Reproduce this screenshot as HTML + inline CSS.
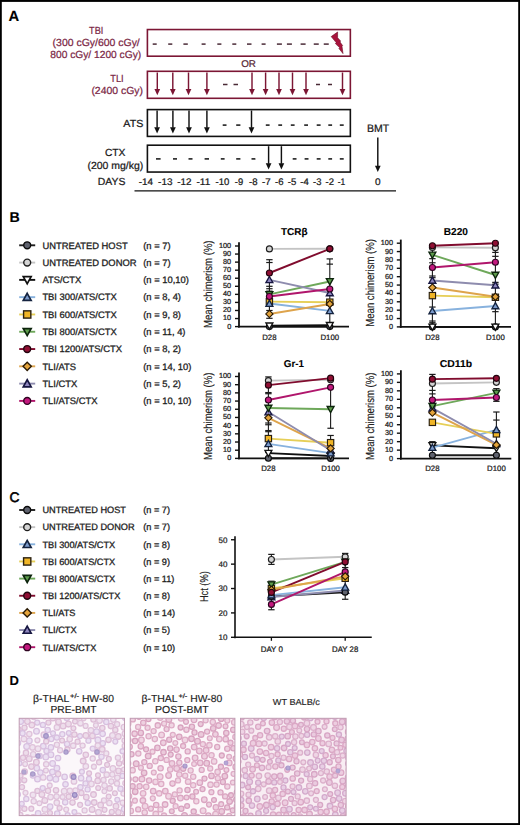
<!DOCTYPE html>
<html><head><meta charset="utf-8"><title>Figure</title>
<style>
html,body{margin:0;padding:0;background:#fff;}
svg{display:block;font-family:"Liberation Sans",sans-serif;}
</style></head>
<body>
<svg width="520" height="825" viewBox="0 0 520 825" text-rendering="geometricPrecision">
<rect x="0" y="0" width="520" height="825" fill="#ffffff"/>
<text x="8.4" y="20.8" font-size="14.8" font-weight="bold" fill="#000" stroke="#000" stroke-width="0.1">A</text>
<text x="96.2" y="33.5" font-size="10.3" textLength="14.2" lengthAdjust="spacingAndGlyphs" text-anchor="middle" fill="#7b2745" stroke="#7b2745" stroke-width="0.24">TBI</text>
<text x="139.8" y="45.8" font-size="10.3" textLength="87.2" lengthAdjust="spacingAndGlyphs" text-anchor="end" fill="#7b2745" stroke="#7b2745" stroke-width="0.24">(300 cGy/600 cGy/</text>
<text x="141.2" y="58.0" font-size="10.3" textLength="90.9" lengthAdjust="spacingAndGlyphs" text-anchor="end" fill="#7b2745" stroke="#7b2745" stroke-width="0.24">800 cGy/ 1200 cGy)</text>
<rect x="147.4" y="29.55" width="202.95" height="26.65" fill="none" stroke="#7c1634" stroke-width="1.6"/>
<line x1="152.7" y1="44.1" x2="156.7" y2="44.1" stroke="#4a2a36" stroke-width="1.5"/>
<line x1="168.2" y1="44.1" x2="172.3" y2="44.1" stroke="#4a2a36" stroke-width="1.5"/>
<line x1="183.4" y1="44.1" x2="187.8" y2="44.1" stroke="#4a2a36" stroke-width="1.5"/>
<line x1="201.6" y1="44.1" x2="205.6" y2="44.1" stroke="#4a2a36" stroke-width="1.5"/>
<line x1="217.3" y1="44.1" x2="221.4" y2="44.1" stroke="#4a2a36" stroke-width="1.5"/>
<line x1="232.3" y1="44.1" x2="236.3" y2="44.1" stroke="#4a2a36" stroke-width="1.5"/>
<line x1="247" y1="44.1" x2="251.5" y2="44.1" stroke="#4a2a36" stroke-width="1.5"/>
<line x1="261.6" y1="44.1" x2="265.6" y2="44.1" stroke="#4a2a36" stroke-width="1.5"/>
<line x1="276.9" y1="44.1" x2="281.9" y2="44.1" stroke="#4a2a36" stroke-width="1.5"/>
<line x1="286.9" y1="44.1" x2="291.9" y2="44.1" stroke="#4a2a36" stroke-width="1.5"/>
<line x1="300.6" y1="44.1" x2="305.6" y2="44.1" stroke="#4a2a36" stroke-width="1.5"/>
<line x1="313.75" y1="44.1" x2="318.75" y2="44.1" stroke="#4a2a36" stroke-width="1.5"/>
<line x1="323.75" y1="44.1" x2="328.75" y2="44.1" stroke="#4a2a36" stroke-width="1.5"/>
<polygon points="337.6,32.0 331.2,36.6 336.2,42.6 335.4,43.6 339.6,47.6 339.0,48.6 343.0,53.6 342.0,46.4 342.6,45.6 340.0,42.0 340.6,41.0 337.6,37.8" fill="#a8133c" stroke="#6a0a22" stroke-width="0.6" stroke-linejoin="round"/>
<text x="248.5" y="66.9" font-size="9.8" textLength="14.7" lengthAdjust="spacingAndGlyphs" text-anchor="middle" fill="#5a2a38" stroke="#5a2a38" stroke-width="0.24">OR</text>
<text x="117.0" y="81.7" font-size="10.3" textLength="13.4" lengthAdjust="spacingAndGlyphs" text-anchor="middle" fill="#7b2745" stroke="#7b2745" stroke-width="0.24">TLI</text>
<text x="143.0" y="93.8" font-size="10.3" textLength="51.6" lengthAdjust="spacingAndGlyphs" text-anchor="end" fill="#7b2745" stroke="#7b2745" stroke-width="0.24">(2400 cGy)</text>
<rect x="147.4" y="71.3" width="202.95" height="27.0" fill="none" stroke="#7c1634" stroke-width="1.6"/>
<line x1="157.3" y1="72.5" x2="157.3" y2="89.5" stroke="#7c1634" stroke-width="1.45"/>
<polygon points="154.45,89.00 160.15,89.00 157.30,95.30" fill="#7c1634"/>
<line x1="172.8" y1="72.5" x2="172.8" y2="89.5" stroke="#7c1634" stroke-width="1.45"/>
<polygon points="169.95,89.00 175.65,89.00 172.80,95.30" fill="#7c1634"/>
<line x1="188.5" y1="72.5" x2="188.5" y2="89.5" stroke="#7c1634" stroke-width="1.45"/>
<polygon points="185.65,89.00 191.35,89.00 188.50,95.30" fill="#7c1634"/>
<line x1="206.9" y1="72.5" x2="206.9" y2="89.5" stroke="#7c1634" stroke-width="1.45"/>
<polygon points="204.05,89.00 209.75,89.00 206.90,95.30" fill="#7c1634"/>
<line x1="252" y1="72.5" x2="252" y2="89.5" stroke="#7c1634" stroke-width="1.45"/>
<polygon points="249.15,89.00 254.85,89.00 252.00,95.30" fill="#7c1634"/>
<line x1="265.6" y1="72.5" x2="265.6" y2="89.5" stroke="#7c1634" stroke-width="1.45"/>
<polygon points="262.75,89.00 268.45,89.00 265.60,95.30" fill="#7c1634"/>
<line x1="279" y1="72.5" x2="279" y2="89.5" stroke="#7c1634" stroke-width="1.45"/>
<polygon points="276.15,89.00 281.85,89.00 279.00,95.30" fill="#7c1634"/>
<line x1="292.5" y1="72.5" x2="292.5" y2="89.5" stroke="#7c1634" stroke-width="1.45"/>
<polygon points="289.65,89.00 295.35,89.00 292.50,95.30" fill="#7c1634"/>
<line x1="306" y1="72.5" x2="306" y2="89.5" stroke="#7c1634" stroke-width="1.45"/>
<polygon points="303.15,89.00 308.85,89.00 306.00,95.30" fill="#7c1634"/>
<line x1="342.5" y1="72.5" x2="342.5" y2="89.5" stroke="#7c1634" stroke-width="1.45"/>
<polygon points="339.65,89.00 345.35,89.00 342.50,95.30" fill="#7c1634"/>
<line x1="223" y1="84.5" x2="227.5" y2="84.5" stroke="#4a2a36" stroke-width="1.5"/>
<line x1="233.5" y1="84.5" x2="238" y2="84.5" stroke="#4a2a36" stroke-width="1.5"/>
<line x1="316" y1="84.5" x2="320" y2="84.5" stroke="#4a2a36" stroke-width="1.5"/>
<line x1="328" y1="84.5" x2="332" y2="84.5" stroke="#4a2a36" stroke-width="1.5"/>
<text x="143.3" y="126.6" font-size="10.3" textLength="20.0" lengthAdjust="spacingAndGlyphs" text-anchor="end" fill="#1a1a1a" stroke="#1a1a1a" stroke-width="0.24">ATS</text>
<rect x="147.4" y="109.6" width="202.95" height="26.8" fill="none" stroke="#111" stroke-width="1.6"/>
<line x1="157.1" y1="110.5" x2="157.1" y2="127.8" stroke="#111" stroke-width="1.45"/>
<polygon points="154.25,127.30 159.95,127.30 157.10,133.60" fill="#111"/>
<line x1="172.9" y1="110.5" x2="172.9" y2="127.8" stroke="#111" stroke-width="1.45"/>
<polygon points="170.05,127.30 175.75,127.30 172.90,133.60" fill="#111"/>
<line x1="189.0" y1="110.5" x2="189.0" y2="127.8" stroke="#111" stroke-width="1.45"/>
<polygon points="186.15,127.30 191.85,127.30 189.00,133.60" fill="#111"/>
<line x1="206.9" y1="110.5" x2="206.9" y2="127.8" stroke="#111" stroke-width="1.45"/>
<polygon points="204.05,127.30 209.75,127.30 206.90,133.60" fill="#111"/>
<line x1="251.5" y1="110.5" x2="251.5" y2="127.8" stroke="#111" stroke-width="1.45"/>
<polygon points="248.65,127.30 254.35,127.30 251.50,133.60" fill="#111"/>
<line x1="222.7" y1="125.1" x2="226.5" y2="125.1" stroke="#111" stroke-width="1.5"/>
<line x1="236.2" y1="125.1" x2="240.4" y2="125.1" stroke="#111" stroke-width="1.5"/>
<line x1="265.8" y1="125.1" x2="269.6" y2="125.1" stroke="#111" stroke-width="1.5"/>
<line x1="278.3" y1="125.1" x2="282.1" y2="125.1" stroke="#111" stroke-width="1.5"/>
<line x1="290.8" y1="125.1" x2="294.6" y2="125.1" stroke="#111" stroke-width="1.5"/>
<line x1="304.2" y1="125.1" x2="308" y2="125.1" stroke="#111" stroke-width="1.5"/>
<line x1="316.7" y1="125.1" x2="320.6" y2="125.1" stroke="#111" stroke-width="1.5"/>
<line x1="328.3" y1="125.1" x2="332.1" y2="125.1" stroke="#111" stroke-width="1.5"/>
<line x1="339.8" y1="125.1" x2="343.7" y2="125.1" stroke="#111" stroke-width="1.5"/>
<text x="115.2" y="155.8" font-size="10.3" textLength="20.6" lengthAdjust="spacingAndGlyphs" text-anchor="middle" fill="#1a1a1a" stroke="#1a1a1a" stroke-width="0.24">CTX</text>
<text x="143.3" y="169.0" font-size="10.3" textLength="55.9" lengthAdjust="spacingAndGlyphs" text-anchor="end" fill="#1a1a1a" stroke="#1a1a1a" stroke-width="0.24">(200 mg/kg)</text>
<rect x="147.4" y="145.2" width="202.95" height="26.85" fill="none" stroke="#111" stroke-width="1.6"/>
<line x1="156" y1="158.9" x2="160.6" y2="158.9" stroke="#111" stroke-width="1.5"/>
<line x1="173" y1="158.9" x2="177" y2="158.9" stroke="#111" stroke-width="1.5"/>
<line x1="188.5" y1="158.9" x2="192.5" y2="158.9" stroke="#111" stroke-width="1.5"/>
<line x1="204.6" y1="158.9" x2="209.0" y2="158.9" stroke="#111" stroke-width="1.5"/>
<line x1="220.8" y1="158.9" x2="224.6" y2="158.9" stroke="#111" stroke-width="1.5"/>
<line x1="236.2" y1="158.9" x2="240.4" y2="158.9" stroke="#111" stroke-width="1.5"/>
<line x1="251.5" y1="158.9" x2="255.4" y2="158.9" stroke="#111" stroke-width="1.5"/>
<line x1="292.7" y1="158.9" x2="296.5" y2="158.9" stroke="#111" stroke-width="1.5"/>
<line x1="304.6" y1="158.9" x2="308.5" y2="158.9" stroke="#111" stroke-width="1.5"/>
<line x1="316.7" y1="158.9" x2="320.6" y2="158.9" stroke="#111" stroke-width="1.5"/>
<line x1="328.3" y1="158.9" x2="332.1" y2="158.9" stroke="#111" stroke-width="1.5"/>
<line x1="339.8" y1="158.9" x2="343.7" y2="158.9" stroke="#111" stroke-width="1.5"/>
<line x1="268.6" y1="146.2" x2="268.6" y2="163.79999999999998" stroke="#111" stroke-width="1.45"/>
<polygon points="265.75,163.30 271.45,163.30 268.60,169.60" fill="#111"/>
<line x1="281.4" y1="146.2" x2="281.4" y2="163.79999999999998" stroke="#111" stroke-width="1.45"/>
<polygon points="278.55,163.30 284.25,163.30 281.40,169.60" fill="#111"/>
<text x="378.0" y="132.2" font-size="10.9" textLength="22.2" lengthAdjust="spacingAndGlyphs" text-anchor="middle" fill="#1a1a1a" stroke="#1a1a1a" stroke-width="0.24">BMT</text>
<line x1="377.8" y1="137.5" x2="377.8" y2="166.2" stroke="#111" stroke-width="1.45"/>
<polygon points="374.95,165.70 380.65,165.70 377.80,172.00" fill="#111"/>
<text x="97.8" y="185.3" font-size="10.2" textLength="27.6" lengthAdjust="spacingAndGlyphs" fill="#1a1a1a" stroke="#1a1a1a" stroke-width="0.24">DAYS</text>
<text x="138.75" y="185.3" font-size="9.6" textLength="14.35" lengthAdjust="spacingAndGlyphs" fill="#1a1a1a" stroke="#1a1a1a" stroke-width="0.24">-14</text>
<text x="158.1" y="185.3" font-size="9.6" textLength="14.4" lengthAdjust="spacingAndGlyphs" fill="#1a1a1a" stroke="#1a1a1a" stroke-width="0.24">-13</text>
<text x="177.25" y="185.3" font-size="9.6" textLength="14.25" lengthAdjust="spacingAndGlyphs" fill="#1a1a1a" stroke="#1a1a1a" stroke-width="0.24">-12</text>
<text x="196.5" y="185.3" font-size="9.6" textLength="13.75" lengthAdjust="spacingAndGlyphs" fill="#1a1a1a" stroke="#1a1a1a" stroke-width="0.24">-11</text>
<text x="215.6" y="185.3" font-size="9.6" textLength="13.8" lengthAdjust="spacingAndGlyphs" fill="#1a1a1a" stroke="#1a1a1a" stroke-width="0.24">-10</text>
<text x="234.75" y="185.3" font-size="9.6" textLength="8.35" lengthAdjust="spacingAndGlyphs" fill="#1a1a1a" stroke="#1a1a1a" stroke-width="0.24">-9</text>
<text x="249" y="185.3" font-size="9.6" textLength="8.5" lengthAdjust="spacingAndGlyphs" fill="#1a1a1a" stroke="#1a1a1a" stroke-width="0.24">-8</text>
<text x="261.9" y="185.3" font-size="9.6" textLength="8.7" lengthAdjust="spacingAndGlyphs" fill="#1a1a1a" stroke="#1a1a1a" stroke-width="0.24">-7</text>
<text x="275" y="185.3" font-size="9.6" textLength="8.5" lengthAdjust="spacingAndGlyphs" fill="#1a1a1a" stroke="#1a1a1a" stroke-width="0.24">-6</text>
<text x="287.75" y="185.3" font-size="9.6" textLength="8.5" lengthAdjust="spacingAndGlyphs" fill="#1a1a1a" stroke="#1a1a1a" stroke-width="0.24">-5</text>
<text x="300.25" y="185.3" font-size="9.6" textLength="8.5" lengthAdjust="spacingAndGlyphs" fill="#1a1a1a" stroke="#1a1a1a" stroke-width="0.24">-4</text>
<text x="313.1" y="185.3" font-size="9.6" textLength="8.4" lengthAdjust="spacingAndGlyphs" fill="#1a1a1a" stroke="#1a1a1a" stroke-width="0.24">-3</text>
<text x="325.6" y="185.3" font-size="9.6" textLength="8.4" lengthAdjust="spacingAndGlyphs" fill="#1a1a1a" stroke="#1a1a1a" stroke-width="0.24">-2</text>
<text x="337.75" y="185.3" font-size="9.6" textLength="7.5" lengthAdjust="spacingAndGlyphs" fill="#1a1a1a" stroke="#1a1a1a" stroke-width="0.24">-1</text>
<text x="375.0" y="185.3" font-size="9.6" textLength="5.6" lengthAdjust="spacingAndGlyphs" fill="#1a1a1a" stroke="#1a1a1a" stroke-width="0.24">0</text>
<line x1="134.5" y1="190.9" x2="396" y2="190.9" stroke="#111" stroke-width="1.3"/>
<text x="9.6" y="222.3" font-size="14.2" font-weight="bold" fill="#000" stroke="#000" stroke-width="0.1">B</text>
<line x1="19.2" y1="245.3" x2="35.2" y2="245.3" stroke="#1e1e1e" stroke-width="1.9"/>
<circle cx="27.2" cy="245.3" r="3.45" fill="#5f626e" stroke="#0a0a0a" stroke-width="1.4"/>
<text x="42.4" y="248.6" font-size="9.4" fill="#1e1e1e" stroke="#1e1e1e" stroke-width="0.3">UNTREATED HOST</text>
<text x="143.2" y="248.6" font-size="9.4" fill="#1e1e1e" stroke="#1e1e1e" stroke-width="0.3">(n = 7)</text>
<line x1="19.2" y1="262.59000000000003" x2="35.2" y2="262.59000000000003" stroke="#c4c4c4" stroke-width="1.9"/>
<circle cx="27.2" cy="262.59000000000003" r="3.45" fill="#d4d4d4" stroke="#1e1e1e" stroke-width="1.4"/>
<text x="42.4" y="265.89" font-size="9.4" fill="#1e1e1e" stroke="#1e1e1e" stroke-width="0.3">UNTREATED DONOR</text>
<text x="143.2" y="265.89" font-size="9.4" fill="#1e1e1e" stroke="#1e1e1e" stroke-width="0.3">(n = 7)</text>
<line x1="19.2" y1="279.88" x2="35.2" y2="279.88" stroke="#111111" stroke-width="1.9"/>
<polygon points="23.23,276.70 31.17,276.70 27.2,283.77" fill="#ffffff" stroke="#111111" stroke-width="1.652" stroke-linejoin="miter"/>
<text x="42.4" y="283.18" font-size="9.4" fill="#1e1e1e" stroke="#1e1e1e" stroke-width="0.3">ATS/CTX</text>
<text x="143.2" y="283.18" font-size="9.4" fill="#1e1e1e" stroke="#1e1e1e" stroke-width="0.3">(n = 10,10)</text>
<line x1="19.2" y1="297.17" x2="35.2" y2="297.17" stroke="#88b2de" stroke-width="1.9"/>
<polygon points="27.2,293.28 31.17,300.35 23.23,300.35" fill="#7a9acb" stroke="#14233f" stroke-width="1.652" stroke-linejoin="miter"/>
<text x="42.4" y="300.47" font-size="9.4" fill="#1e1e1e" stroke="#1e1e1e" stroke-width="0.3">TBI 300/ATS/CTX</text>
<text x="143.2" y="300.47" font-size="9.4" fill="#1e1e1e" stroke="#1e1e1e" stroke-width="0.3">(n = 8, 4)</text>
<line x1="19.2" y1="314.46000000000004" x2="35.2" y2="314.46000000000004" stroke="#e6cf58" stroke-width="1.9"/>
<rect x="23.58" y="310.84" width="7.25" height="7.25" fill="#f0b526" stroke="#2a2010" stroke-width="1.4"/>
<text x="42.4" y="317.76" font-size="9.4" fill="#1e1e1e" stroke="#1e1e1e" stroke-width="0.3">TBI 600/ATS/CTX</text>
<text x="143.2" y="317.76" font-size="9.4" fill="#1e1e1e" stroke="#1e1e1e" stroke-width="0.3">(n = 9, 8)</text>
<line x1="19.2" y1="331.75" x2="35.2" y2="331.75" stroke="#6ea85a" stroke-width="1.9"/>
<polygon points="23.23,328.57 31.17,328.57 27.2,335.64" fill="#5e9c4c" stroke="#0c240c" stroke-width="1.652" stroke-linejoin="miter"/>
<text x="42.4" y="335.05" font-size="9.4" fill="#1e1e1e" stroke="#1e1e1e" stroke-width="0.3">TBI 800/ATS/CTX</text>
<text x="143.2" y="335.05" font-size="9.4" fill="#1e1e1e" stroke="#1e1e1e" stroke-width="0.3">(n = 11, 4)</text>
<line x1="19.2" y1="349.04" x2="35.2" y2="349.04" stroke="#800c2e" stroke-width="1.9"/>
<circle cx="27.2" cy="349.04" r="3.45" fill="#8f0f33" stroke="#22040e" stroke-width="1.4"/>
<text x="42.4" y="352.34" font-size="9.4" fill="#1e1e1e" stroke="#1e1e1e" stroke-width="0.3">TBI 1200/ATS/CTX</text>
<text x="143.2" y="352.34" font-size="9.4" fill="#1e1e1e" stroke="#1e1e1e" stroke-width="0.3">(n = 8, 2)</text>
<line x1="19.2" y1="366.33000000000004" x2="35.2" y2="366.33000000000004" stroke="#dea44c" stroke-width="1.9"/>
<polygon points="27.2,362.19 31.34,366.33000000000004 27.2,370.47 23.06,366.33000000000004" fill="#e4a43c" stroke="#2a1a04" stroke-width="1.4"/>
<text x="42.4" y="369.63" font-size="9.4" fill="#1e1e1e" stroke="#1e1e1e" stroke-width="0.3">TLI/ATS</text>
<text x="143.2" y="369.63" font-size="9.4" fill="#1e1e1e" stroke="#1e1e1e" stroke-width="0.3">(n = 14, 10)</text>
<line x1="19.2" y1="383.62" x2="35.2" y2="383.62" stroke="#8e8cae" stroke-width="1.9"/>
<polygon points="27.2,379.73 31.17,386.80 23.23,386.80" fill="#8e86be" stroke="#161640" stroke-width="1.652" stroke-linejoin="miter"/>
<text x="42.4" y="386.92" font-size="9.4" fill="#1e1e1e" stroke="#1e1e1e" stroke-width="0.3">TLI/CTX</text>
<text x="143.2" y="386.92" font-size="9.4" fill="#1e1e1e" stroke="#1e1e1e" stroke-width="0.3">(n = 5, 2)</text>
<line x1="19.2" y1="400.90999999999997" x2="35.2" y2="400.90999999999997" stroke="#b0166c" stroke-width="1.9"/>
<circle cx="27.2" cy="400.90999999999997" r="3.45" fill="#c3187e" stroke="#2e0420" stroke-width="1.4"/>
<text x="42.4" y="404.21" font-size="9.4" fill="#1e1e1e" stroke="#1e1e1e" stroke-width="0.3">TLI/ATS/CTX</text>
<text x="143.2" y="404.21" font-size="9.4" fill="#1e1e1e" stroke="#1e1e1e" stroke-width="0.3">(n = 10, 10)</text>
<text x="294.3" y="234.8" font-size="10.0" textLength="26.5" lengthAdjust="spacingAndGlyphs" text-anchor="middle" font-weight="bold" fill="#000" stroke="#000" stroke-width="0.1">TCRβ</text>
<line x1="269.4" y1="326.6" x2="329.8" y2="326.6" stroke="#1e1e1e" stroke-width="1.9"/>
<line x1="269.4" y1="248.9" x2="329.8" y2="248.82" stroke="#c4c4c4" stroke-width="1.9"/>
<line x1="269.4" y1="325.79" x2="329.8" y2="325.31" stroke="#111111" stroke-width="1.9"/>
<line x1="269.4" y1="303.55" x2="329.8" y2="310.88" stroke="#88b2de" stroke-width="1.9"/>
<line x1="269.4" y1="301.61" x2="329.8" y2="302.18" stroke="#e6cf58" stroke-width="1.9"/>
<line x1="269.4" y1="294.36" x2="329.8" y2="281.46" stroke="#6ea85a" stroke-width="1.9"/>
<line x1="269.4" y1="273.0" x2="329.8" y2="248.82" stroke="#800c2e" stroke-width="1.9"/>
<line x1="269.4" y1="313.95" x2="329.8" y2="304.03" stroke="#dea44c" stroke-width="1.9"/>
<line x1="269.4" y1="279.85" x2="329.8" y2="292.99" stroke="#8e8cae" stroke-width="1.9"/>
<line x1="269.4" y1="296.46" x2="329.8" y2="289.04" stroke="#b0166c" stroke-width="1.9"/>
<line x1="269.4" y1="318.3" x2="269.4" y2="259.7" stroke="#1a1a1a" stroke-width="1.1"/>
<line x1="329.8" y1="326.6" x2="329.8" y2="258.9" stroke="#1a1a1a" stroke-width="1.1"/>
<line x1="266.2" y1="259.7" x2="272.59999999999997" y2="259.7" stroke="#1a1a1a" stroke-width="1.2"/>
<line x1="266.2" y1="262.52" x2="272.59999999999997" y2="262.52" stroke="#1a1a1a" stroke-width="1.2"/>
<line x1="266.2" y1="286.3" x2="272.59999999999997" y2="286.3" stroke="#1a1a1a" stroke-width="1.2"/>
<line x1="266.2" y1="288.72" x2="272.59999999999997" y2="288.72" stroke="#1a1a1a" stroke-width="1.2"/>
<line x1="266.2" y1="291.14" x2="272.59999999999997" y2="291.14" stroke="#1a1a1a" stroke-width="1.2"/>
<line x1="266.2" y1="310.48" x2="272.59999999999997" y2="310.48" stroke="#1a1a1a" stroke-width="1.2"/>
<line x1="266.2" y1="318.3" x2="272.59999999999997" y2="318.3" stroke="#1a1a1a" stroke-width="1.2"/>
<line x1="326.6" y1="258.9" x2="333.0" y2="258.9" stroke="#1a1a1a" stroke-width="1.2"/>
<line x1="326.6" y1="264.13" x2="333.0" y2="264.13" stroke="#1a1a1a" stroke-width="1.2"/>
<line x1="239.0" y1="242.3" x2="239.0" y2="327.5" stroke="#111" stroke-width="1.8"/>
<line x1="238.1" y1="326.6" x2="349" y2="326.6" stroke="#111" stroke-width="1.8"/>
<line x1="235.0" y1="326.6" x2="239.0" y2="326.6" stroke="#111" stroke-width="1.4"/>
<text x="231.2" y="328.55" font-size="7.3" text-anchor="end" fill="#222" stroke="#222" stroke-width="0.24">0</text>
<line x1="235.0" y1="318.54" x2="239.0" y2="318.54" stroke="#111" stroke-width="1.4"/>
<text x="231.2" y="320.49" font-size="7.3" text-anchor="end" fill="#222" stroke="#222" stroke-width="0.24">10</text>
<line x1="235.0" y1="310.48" x2="239.0" y2="310.48" stroke="#111" stroke-width="1.4"/>
<text x="231.2" y="312.43" font-size="7.3" text-anchor="end" fill="#222" stroke="#222" stroke-width="0.24">20</text>
<line x1="235.0" y1="302.42" x2="239.0" y2="302.42" stroke="#111" stroke-width="1.4"/>
<text x="231.2" y="304.37" font-size="7.3" text-anchor="end" fill="#222" stroke="#222" stroke-width="0.24">30</text>
<line x1="235.0" y1="294.36" x2="239.0" y2="294.36" stroke="#111" stroke-width="1.4"/>
<text x="231.2" y="296.31" font-size="7.3" text-anchor="end" fill="#222" stroke="#222" stroke-width="0.24">40</text>
<line x1="235.0" y1="286.3" x2="239.0" y2="286.3" stroke="#111" stroke-width="1.4"/>
<text x="231.2" y="288.25" font-size="7.3" text-anchor="end" fill="#222" stroke="#222" stroke-width="0.24">50</text>
<line x1="235.0" y1="278.24" x2="239.0" y2="278.24" stroke="#111" stroke-width="1.4"/>
<text x="231.2" y="280.19" font-size="7.3" text-anchor="end" fill="#222" stroke="#222" stroke-width="0.24">60</text>
<line x1="235.0" y1="270.18" x2="239.0" y2="270.18" stroke="#111" stroke-width="1.4"/>
<text x="231.2" y="272.13" font-size="7.3" text-anchor="end" fill="#222" stroke="#222" stroke-width="0.24">70</text>
<line x1="235.0" y1="262.12" x2="239.0" y2="262.12" stroke="#111" stroke-width="1.4"/>
<text x="231.2" y="264.07" font-size="7.3" text-anchor="end" fill="#222" stroke="#222" stroke-width="0.24">80</text>
<line x1="235.0" y1="254.06" x2="239.0" y2="254.06" stroke="#111" stroke-width="1.4"/>
<text x="231.2" y="256.01" font-size="7.3" text-anchor="end" fill="#222" stroke="#222" stroke-width="0.24">90</text>
<line x1="235.0" y1="246.0" x2="239.0" y2="246.0" stroke="#111" stroke-width="1.4"/>
<text x="231.2" y="247.95" font-size="7.3" text-anchor="end" fill="#222" stroke="#222" stroke-width="0.24">100</text>
<circle cx="269.4" cy="248.9" r="3.0" fill="#d4d4d4" stroke="#1e1e1e" stroke-width="1.15"/>
<circle cx="329.8" cy="248.82" r="3.0" fill="#d4d4d4" stroke="#1e1e1e" stroke-width="1.15"/>
<polygon points="269.4,276.47 272.85,282.62 265.95,282.62" fill="#8e86be" stroke="#161640" stroke-width="1.3569999999999998" stroke-linejoin="miter"/>
<polygon points="329.8,289.61 333.25,295.76 326.35,295.76" fill="#8e86be" stroke="#161640" stroke-width="1.3569999999999998" stroke-linejoin="miter"/>
<circle cx="269.4" cy="326.6" r="3.0" fill="#5f626e" stroke="#0a0a0a" stroke-width="1.15"/>
<circle cx="329.8" cy="326.6" r="3.0" fill="#5f626e" stroke="#0a0a0a" stroke-width="1.15"/>
<polygon points="265.95,323.02 272.85,323.02 269.4,329.17" fill="#ffffff" stroke="#111111" stroke-width="1.3569999999999998" stroke-linejoin="miter"/>
<polygon points="326.35,322.54 333.25,322.54 329.8,328.69" fill="#ffffff" stroke="#111111" stroke-width="1.3569999999999998" stroke-linejoin="miter"/>
<rect x="266.25" y="298.46" width="6.30" height="6.30" fill="#f0b526" stroke="#2a2010" stroke-width="1.15"/>
<rect x="326.65" y="299.03" width="6.30" height="6.30" fill="#f0b526" stroke="#2a2010" stroke-width="1.15"/>
<polygon points="269.4,300.17 272.85,306.32 265.95,306.32" fill="#7a9acb" stroke="#14233f" stroke-width="1.3569999999999998" stroke-linejoin="miter"/>
<polygon points="329.8,307.50 333.25,313.65 326.35,313.65" fill="#7a9acb" stroke="#14233f" stroke-width="1.3569999999999998" stroke-linejoin="miter"/>
<polygon points="265.95,291.59 272.85,291.59 269.4,297.74" fill="#5e9c4c" stroke="#0c240c" stroke-width="1.3569999999999998" stroke-linejoin="miter"/>
<polygon points="326.35,278.69 333.25,278.69 329.8,284.84" fill="#5e9c4c" stroke="#0c240c" stroke-width="1.3569999999999998" stroke-linejoin="miter"/>
<circle cx="269.4" cy="296.46" r="3.0" fill="#c3187e" stroke="#2e0420" stroke-width="1.15"/>
<circle cx="329.8" cy="289.04" r="3.0" fill="#c3187e" stroke="#2e0420" stroke-width="1.15"/>
<polygon points="269.4,310.35 273.00,313.95 269.4,317.55 265.80,313.95" fill="#e4a43c" stroke="#2a1a04" stroke-width="1.15"/>
<polygon points="329.8,300.43 333.40,304.03 329.8,307.63 326.20,304.03" fill="#e4a43c" stroke="#2a1a04" stroke-width="1.15"/>
<circle cx="269.4" cy="273.0" r="3.0" fill="#8f0f33" stroke="#22040e" stroke-width="1.15"/>
<circle cx="329.8" cy="248.82" r="3.0" fill="#8f0f33" stroke="#22040e" stroke-width="1.15"/>
<text x="269.4" y="339.5" font-size="7.8" text-anchor="middle" fill="#222" stroke="#222" stroke-width="0.24">D28</text>
<text x="329.8" y="339.5" font-size="7.8" text-anchor="middle" fill="#222" stroke="#222" stroke-width="0.24">D100</text>
<text x="0" y="0" font-size="11.7" transform="translate(212.0,284.2) rotate(-90)" text-anchor="middle" textLength="87.5" lengthAdjust="spacingAndGlyphs" fill="#222" stroke="#222" stroke-width="0.15">Mean chimerism (%)</text>
<text x="455.9" y="235.2" font-size="10.0" textLength="24.2" lengthAdjust="spacingAndGlyphs" text-anchor="middle" font-weight="bold" fill="#000" stroke="#000" stroke-width="0.1">B220</text>
<line x1="432.4" y1="326.9" x2="495.4" y2="326.9" stroke="#1e1e1e" stroke-width="1.9"/>
<line x1="432.4" y1="247.38" x2="495.4" y2="247.8" stroke="#c4c4c4" stroke-width="1.9"/>
<line x1="432.4" y1="326.9" x2="495.4" y2="326.9" stroke="#111111" stroke-width="1.9"/>
<line x1="432.4" y1="311.0" x2="495.4" y2="305.97" stroke="#88b2de" stroke-width="1.9"/>
<line x1="432.4" y1="295.6" x2="495.4" y2="297.27" stroke="#e6cf58" stroke-width="1.9"/>
<line x1="432.4" y1="254.92" x2="495.4" y2="275.01" stroke="#6ea85a" stroke-width="1.9"/>
<line x1="432.4" y1="245.71" x2="495.4" y2="243.2" stroke="#800c2e" stroke-width="1.9"/>
<line x1="432.4" y1="287.56" x2="495.4" y2="296.77" stroke="#dea44c" stroke-width="1.9"/>
<line x1="432.4" y1="280.45" x2="495.4" y2="285.22" stroke="#8e8cae" stroke-width="1.9"/>
<line x1="432.4" y1="267.47" x2="495.4" y2="262.2" stroke="#b0166c" stroke-width="1.9"/>
<line x1="432.4" y1="326.9" x2="432.4" y2="245.71" stroke="#1a1a1a" stroke-width="1.1"/>
<line x1="495.4" y1="326.9" x2="495.4" y2="243.2" stroke="#1a1a1a" stroke-width="1.1"/>
<line x1="429.2" y1="258.68" x2="435.59999999999997" y2="258.68" stroke="#1a1a1a" stroke-width="1.2"/>
<line x1="429.2" y1="262.79" x2="435.59999999999997" y2="262.79" stroke="#1a1a1a" stroke-width="1.2"/>
<line x1="429.2" y1="276.01" x2="435.59999999999997" y2="276.01" stroke="#1a1a1a" stroke-width="1.2"/>
<line x1="429.2" y1="277.68" x2="435.59999999999997" y2="277.68" stroke="#1a1a1a" stroke-width="1.2"/>
<line x1="429.2" y1="307.06" x2="435.59999999999997" y2="307.06" stroke="#1a1a1a" stroke-width="1.2"/>
<line x1="429.2" y1="321.04" x2="435.59999999999997" y2="321.04" stroke="#1a1a1a" stroke-width="1.2"/>
<line x1="429.2" y1="322.71" x2="435.59999999999997" y2="322.71" stroke="#1a1a1a" stroke-width="1.2"/>
<line x1="492.2" y1="252.41" x2="498.59999999999997" y2="252.41" stroke="#1a1a1a" stroke-width="1.2"/>
<line x1="492.2" y1="256.34" x2="498.59999999999997" y2="256.34" stroke="#1a1a1a" stroke-width="1.2"/>
<line x1="492.2" y1="282.37" x2="498.59999999999997" y2="282.37" stroke="#1a1a1a" stroke-width="1.2"/>
<line x1="492.2" y1="284.13" x2="498.59999999999997" y2="284.13" stroke="#1a1a1a" stroke-width="1.2"/>
<line x1="492.2" y1="311.67" x2="498.59999999999997" y2="311.67" stroke="#1a1a1a" stroke-width="1.2"/>
<line x1="400.8" y1="239.6" x2="400.8" y2="327.79999999999995" stroke="#111" stroke-width="1.8"/>
<line x1="399.90000000000003" y1="326.9" x2="511" y2="326.9" stroke="#111" stroke-width="1.8"/>
<line x1="396.8" y1="326.9" x2="400.8" y2="326.9" stroke="#111" stroke-width="1.4"/>
<text x="393.0" y="328.85" font-size="7.3" text-anchor="end" fill="#222" stroke="#222" stroke-width="0.24">0</text>
<line x1="396.8" y1="318.53" x2="400.8" y2="318.53" stroke="#111" stroke-width="1.4"/>
<text x="393.0" y="320.48" font-size="7.3" text-anchor="end" fill="#222" stroke="#222" stroke-width="0.24">10</text>
<line x1="396.8" y1="310.16" x2="400.8" y2="310.16" stroke="#111" stroke-width="1.4"/>
<text x="393.0" y="312.11" font-size="7.3" text-anchor="end" fill="#222" stroke="#222" stroke-width="0.24">20</text>
<line x1="396.8" y1="301.79" x2="400.8" y2="301.79" stroke="#111" stroke-width="1.4"/>
<text x="393.0" y="303.74" font-size="7.3" text-anchor="end" fill="#222" stroke="#222" stroke-width="0.24">30</text>
<line x1="396.8" y1="293.42" x2="400.8" y2="293.42" stroke="#111" stroke-width="1.4"/>
<text x="393.0" y="295.37" font-size="7.3" text-anchor="end" fill="#222" stroke="#222" stroke-width="0.24">40</text>
<line x1="396.8" y1="285.05" x2="400.8" y2="285.05" stroke="#111" stroke-width="1.4"/>
<text x="393.0" y="287.0" font-size="7.3" text-anchor="end" fill="#222" stroke="#222" stroke-width="0.24">50</text>
<line x1="396.8" y1="276.68" x2="400.8" y2="276.68" stroke="#111" stroke-width="1.4"/>
<text x="393.0" y="278.63" font-size="7.3" text-anchor="end" fill="#222" stroke="#222" stroke-width="0.24">60</text>
<line x1="396.8" y1="268.31" x2="400.8" y2="268.31" stroke="#111" stroke-width="1.4"/>
<text x="393.0" y="270.26" font-size="7.3" text-anchor="end" fill="#222" stroke="#222" stroke-width="0.24">70</text>
<line x1="396.8" y1="259.94" x2="400.8" y2="259.94" stroke="#111" stroke-width="1.4"/>
<text x="393.0" y="261.89" font-size="7.3" text-anchor="end" fill="#222" stroke="#222" stroke-width="0.24">80</text>
<line x1="396.8" y1="251.57" x2="400.8" y2="251.57" stroke="#111" stroke-width="1.4"/>
<text x="393.0" y="253.52" font-size="7.3" text-anchor="end" fill="#222" stroke="#222" stroke-width="0.24">90</text>
<line x1="396.8" y1="243.2" x2="400.8" y2="243.2" stroke="#111" stroke-width="1.4"/>
<text x="393.0" y="245.15" font-size="7.3" text-anchor="end" fill="#222" stroke="#222" stroke-width="0.24">100</text>
<circle cx="432.4" cy="247.38" r="3.0" fill="#d4d4d4" stroke="#1e1e1e" stroke-width="1.15"/>
<circle cx="495.4" cy="247.8" r="3.0" fill="#d4d4d4" stroke="#1e1e1e" stroke-width="1.15"/>
<polygon points="432.4,277.07 435.85,283.22 428.95,283.22" fill="#8e86be" stroke="#161640" stroke-width="1.3569999999999998" stroke-linejoin="miter"/>
<polygon points="495.4,281.84 498.85,287.99 491.95,287.99" fill="#8e86be" stroke="#161640" stroke-width="1.3569999999999998" stroke-linejoin="miter"/>
<circle cx="432.4" cy="326.9" r="3.0" fill="#5f626e" stroke="#0a0a0a" stroke-width="1.15"/>
<circle cx="495.4" cy="326.9" r="3.0" fill="#5f626e" stroke="#0a0a0a" stroke-width="1.15"/>
<polygon points="428.95,324.13 435.85,324.13 432.4,330.28" fill="#ffffff" stroke="#111111" stroke-width="1.3569999999999998" stroke-linejoin="miter"/>
<polygon points="491.95,324.13 498.85,324.13 495.4,330.28" fill="#ffffff" stroke="#111111" stroke-width="1.3569999999999998" stroke-linejoin="miter"/>
<rect x="429.25" y="292.45" width="6.30" height="6.30" fill="#f0b526" stroke="#2a2010" stroke-width="1.15"/>
<rect x="492.25" y="294.12" width="6.30" height="6.30" fill="#f0b526" stroke="#2a2010" stroke-width="1.15"/>
<polygon points="432.4,307.62 435.85,313.77 428.95,313.77" fill="#7a9acb" stroke="#14233f" stroke-width="1.3569999999999998" stroke-linejoin="miter"/>
<polygon points="495.4,302.59 498.85,308.74 491.95,308.74" fill="#7a9acb" stroke="#14233f" stroke-width="1.3569999999999998" stroke-linejoin="miter"/>
<polygon points="428.95,252.15 435.85,252.15 432.4,258.30" fill="#5e9c4c" stroke="#0c240c" stroke-width="1.3569999999999998" stroke-linejoin="miter"/>
<polygon points="491.95,272.24 498.85,272.24 495.4,278.39" fill="#5e9c4c" stroke="#0c240c" stroke-width="1.3569999999999998" stroke-linejoin="miter"/>
<circle cx="432.4" cy="267.47" r="3.0" fill="#c3187e" stroke="#2e0420" stroke-width="1.15"/>
<circle cx="495.4" cy="262.2" r="3.0" fill="#c3187e" stroke="#2e0420" stroke-width="1.15"/>
<polygon points="432.4,283.96 436.00,287.56 432.4,291.16 428.80,287.56" fill="#e4a43c" stroke="#2a1a04" stroke-width="1.15"/>
<polygon points="495.4,293.17 499.00,296.77 495.4,300.37 491.80,296.77" fill="#e4a43c" stroke="#2a1a04" stroke-width="1.15"/>
<circle cx="432.4" cy="245.71" r="3.0" fill="#8f0f33" stroke="#22040e" stroke-width="1.15"/>
<circle cx="495.4" cy="243.2" r="3.0" fill="#8f0f33" stroke="#22040e" stroke-width="1.15"/>
<text x="432.4" y="339.5" font-size="7.8" text-anchor="middle" fill="#222" stroke="#222" stroke-width="0.24">D28</text>
<text x="495.4" y="339.5" font-size="7.8" text-anchor="middle" fill="#222" stroke="#222" stroke-width="0.24">D100</text>
<text x="0" y="0" font-size="11.7" transform="translate(373.8,282.9) rotate(-90)" text-anchor="middle" textLength="87.5" lengthAdjust="spacingAndGlyphs" fill="#222" stroke="#222" stroke-width="0.15">Mean chimerism (%)</text>
<text x="293.9" y="366.9" font-size="10.0" textLength="20.2" lengthAdjust="spacingAndGlyphs" text-anchor="middle" font-weight="bold" fill="#000" stroke="#000" stroke-width="0.1">Gr-1</text>
<line x1="268.4" y1="458.24" x2="330.6" y2="458.4" stroke="#1e1e1e" stroke-width="1.9"/>
<line x1="268.4" y1="380.6" x2="330.6" y2="379.78" stroke="#c4c4c4" stroke-width="1.9"/>
<line x1="268.4" y1="453.16" x2="330.6" y2="455.94" stroke="#111111" stroke-width="1.9"/>
<line x1="268.4" y1="443.82" x2="330.6" y2="453.08" stroke="#88b2de" stroke-width="1.9"/>
<line x1="268.4" y1="438.58" x2="330.6" y2="442.68" stroke="#e6cf58" stroke-width="1.9"/>
<line x1="268.4" y1="408.03" x2="330.6" y2="409.26" stroke="#6ea85a" stroke-width="1.9"/>
<line x1="268.4" y1="385.18" x2="330.6" y2="378.14" stroke="#800c2e" stroke-width="1.9"/>
<line x1="268.4" y1="417.86" x2="330.6" y2="448.41" stroke="#dea44c" stroke-width="1.9"/>
<line x1="268.4" y1="412.04" x2="330.6" y2="450.21" stroke="#8e8cae" stroke-width="1.9"/>
<line x1="268.4" y1="400.01" x2="330.6" y2="387.31" stroke="#b0166c" stroke-width="1.9"/>
<line x1="268.4" y1="458.4" x2="268.4" y2="376.91" stroke="#1a1a1a" stroke-width="1.1"/>
<line x1="330.6" y1="428.26" x2="330.6" y2="387.31" stroke="#1a1a1a" stroke-width="1.1"/>
<line x1="330.6" y1="458.4" x2="330.6" y2="435.47" stroke="#1a1a1a" stroke-width="1.1"/>
<line x1="265.2" y1="376.91" x2="271.59999999999997" y2="376.91" stroke="#1a1a1a" stroke-width="1.2"/>
<line x1="265.2" y1="392.55" x2="271.59999999999997" y2="392.55" stroke="#1a1a1a" stroke-width="1.2"/>
<line x1="265.2" y1="393.7" x2="271.59999999999997" y2="393.7" stroke="#1a1a1a" stroke-width="1.2"/>
<line x1="265.2" y1="423.02" x2="271.59999999999997" y2="423.02" stroke="#1a1a1a" stroke-width="1.2"/>
<line x1="265.2" y1="424.74" x2="271.59999999999997" y2="424.74" stroke="#1a1a1a" stroke-width="1.2"/>
<line x1="265.2" y1="430.55" x2="271.59999999999997" y2="430.55" stroke="#1a1a1a" stroke-width="1.2"/>
<line x1="265.2" y1="431.7" x2="271.59999999999997" y2="431.7" stroke="#1a1a1a" stroke-width="1.2"/>
<line x1="265.2" y1="450.7" x2="271.59999999999997" y2="450.7" stroke="#1a1a1a" stroke-width="1.2"/>
<line x1="265.2" y1="452.5" x2="271.59999999999997" y2="452.5" stroke="#1a1a1a" stroke-width="1.2"/>
<line x1="327.40000000000003" y1="428.26" x2="333.8" y2="428.26" stroke="#1a1a1a" stroke-width="1.2"/>
<line x1="327.40000000000003" y1="435.47" x2="333.8" y2="435.47" stroke="#1a1a1a" stroke-width="1.2"/>
<line x1="239.0" y1="372.6" x2="239.0" y2="459.29999999999995" stroke="#111" stroke-width="1.8"/>
<line x1="238.1" y1="458.4" x2="349" y2="458.4" stroke="#111" stroke-width="1.8"/>
<line x1="235.0" y1="458.4" x2="239.0" y2="458.4" stroke="#111" stroke-width="1.4"/>
<text x="231.2" y="460.35" font-size="7.3" text-anchor="end" fill="#222" stroke="#222" stroke-width="0.24">0</text>
<line x1="235.0" y1="450.21" x2="239.0" y2="450.21" stroke="#111" stroke-width="1.4"/>
<text x="231.2" y="452.16" font-size="7.3" text-anchor="end" fill="#222" stroke="#222" stroke-width="0.24">10</text>
<line x1="235.0" y1="442.02" x2="239.0" y2="442.02" stroke="#111" stroke-width="1.4"/>
<text x="231.2" y="443.97" font-size="7.3" text-anchor="end" fill="#222" stroke="#222" stroke-width="0.24">20</text>
<line x1="235.0" y1="433.83" x2="239.0" y2="433.83" stroke="#111" stroke-width="1.4"/>
<text x="231.2" y="435.78" font-size="7.3" text-anchor="end" fill="#222" stroke="#222" stroke-width="0.24">30</text>
<line x1="235.0" y1="425.64" x2="239.0" y2="425.64" stroke="#111" stroke-width="1.4"/>
<text x="231.2" y="427.59" font-size="7.3" text-anchor="end" fill="#222" stroke="#222" stroke-width="0.24">40</text>
<line x1="235.0" y1="417.45" x2="239.0" y2="417.45" stroke="#111" stroke-width="1.4"/>
<text x="231.2" y="419.4" font-size="7.3" text-anchor="end" fill="#222" stroke="#222" stroke-width="0.24">50</text>
<line x1="235.0" y1="409.26" x2="239.0" y2="409.26" stroke="#111" stroke-width="1.4"/>
<text x="231.2" y="411.21" font-size="7.3" text-anchor="end" fill="#222" stroke="#222" stroke-width="0.24">60</text>
<line x1="235.0" y1="401.07" x2="239.0" y2="401.07" stroke="#111" stroke-width="1.4"/>
<text x="231.2" y="403.02" font-size="7.3" text-anchor="end" fill="#222" stroke="#222" stroke-width="0.24">70</text>
<line x1="235.0" y1="392.88" x2="239.0" y2="392.88" stroke="#111" stroke-width="1.4"/>
<text x="231.2" y="394.83" font-size="7.3" text-anchor="end" fill="#222" stroke="#222" stroke-width="0.24">80</text>
<line x1="235.0" y1="384.69" x2="239.0" y2="384.69" stroke="#111" stroke-width="1.4"/>
<text x="231.2" y="386.64" font-size="7.3" text-anchor="end" fill="#222" stroke="#222" stroke-width="0.24">90</text>
<line x1="235.0" y1="376.5" x2="239.0" y2="376.5" stroke="#111" stroke-width="1.4"/>
<text x="231.2" y="378.45" font-size="7.3" text-anchor="end" fill="#222" stroke="#222" stroke-width="0.24">100</text>
<circle cx="268.4" cy="380.6" r="3.0" fill="#d4d4d4" stroke="#1e1e1e" stroke-width="1.15"/>
<circle cx="330.6" cy="379.78" r="3.0" fill="#d4d4d4" stroke="#1e1e1e" stroke-width="1.15"/>
<polygon points="268.4,408.66 271.85,414.81 264.95,414.81" fill="#8e86be" stroke="#161640" stroke-width="1.3569999999999998" stroke-linejoin="miter"/>
<polygon points="330.6,446.83 334.05,452.98 327.15,452.98" fill="#8e86be" stroke="#161640" stroke-width="1.3569999999999998" stroke-linejoin="miter"/>
<circle cx="268.4" cy="458.24" r="3.0" fill="#5f626e" stroke="#0a0a0a" stroke-width="1.15"/>
<circle cx="330.6" cy="458.4" r="3.0" fill="#5f626e" stroke="#0a0a0a" stroke-width="1.15"/>
<polygon points="264.95,450.39 271.85,450.39 268.4,456.54" fill="#ffffff" stroke="#111111" stroke-width="1.3569999999999998" stroke-linejoin="miter"/>
<polygon points="327.15,453.17 334.05,453.17 330.6,459.32" fill="#ffffff" stroke="#111111" stroke-width="1.3569999999999998" stroke-linejoin="miter"/>
<rect x="265.25" y="435.43" width="6.30" height="6.30" fill="#f0b526" stroke="#2a2010" stroke-width="1.15"/>
<rect x="327.45" y="439.53" width="6.30" height="6.30" fill="#f0b526" stroke="#2a2010" stroke-width="1.15"/>
<polygon points="268.4,440.44 271.85,446.59 264.95,446.59" fill="#7a9acb" stroke="#14233f" stroke-width="1.3569999999999998" stroke-linejoin="miter"/>
<polygon points="330.6,449.70 334.05,455.85 327.15,455.85" fill="#7a9acb" stroke="#14233f" stroke-width="1.3569999999999998" stroke-linejoin="miter"/>
<polygon points="264.95,405.26 271.85,405.26 268.4,411.41" fill="#5e9c4c" stroke="#0c240c" stroke-width="1.3569999999999998" stroke-linejoin="miter"/>
<polygon points="327.15,406.49 334.05,406.49 330.6,412.64" fill="#5e9c4c" stroke="#0c240c" stroke-width="1.3569999999999998" stroke-linejoin="miter"/>
<circle cx="268.4" cy="400.01" r="3.0" fill="#c3187e" stroke="#2e0420" stroke-width="1.15"/>
<circle cx="330.6" cy="387.31" r="3.0" fill="#c3187e" stroke="#2e0420" stroke-width="1.15"/>
<polygon points="268.4,414.26 272.00,417.86 268.4,421.46 264.80,417.86" fill="#e4a43c" stroke="#2a1a04" stroke-width="1.15"/>
<polygon points="330.6,444.81 334.20,448.41 330.6,452.01 327.00,448.41" fill="#e4a43c" stroke="#2a1a04" stroke-width="1.15"/>
<circle cx="268.4" cy="385.18" r="3.0" fill="#8f0f33" stroke="#22040e" stroke-width="1.15"/>
<circle cx="330.6" cy="378.14" r="3.0" fill="#8f0f33" stroke="#22040e" stroke-width="1.15"/>
<text x="268.4" y="471.0" font-size="7.8" text-anchor="middle" fill="#222" stroke="#222" stroke-width="0.24">D28</text>
<text x="330.6" y="471.0" font-size="7.8" text-anchor="middle" fill="#222" stroke="#222" stroke-width="0.24">D100</text>
<text x="0" y="0" font-size="11.7" transform="translate(212.0,416.3) rotate(-90)" text-anchor="middle" textLength="87.5" lengthAdjust="spacingAndGlyphs" fill="#222" stroke="#222" stroke-width="0.15">Mean chimerism (%)</text>
<text x="456.0" y="366.9" font-size="10.0" textLength="32.3" lengthAdjust="spacingAndGlyphs" text-anchor="middle" font-weight="bold" fill="#000" stroke="#000" stroke-width="0.1">CD11b</text>
<line x1="432.4" y1="455.21" x2="496.4" y2="455.21" stroke="#1e1e1e" stroke-width="1.9"/>
<line x1="432.4" y1="383.47" x2="496.4" y2="382.37" stroke="#c4c4c4" stroke-width="1.9"/>
<line x1="432.4" y1="445.39" x2="496.4" y2="448.27" stroke="#111111" stroke-width="1.9"/>
<line x1="432.4" y1="447.59" x2="496.4" y2="429.8" stroke="#88b2de" stroke-width="1.9"/>
<line x1="432.4" y1="422.35" x2="496.4" y2="433.87" stroke="#e6cf58" stroke-width="1.9"/>
<line x1="432.4" y1="406.09" x2="496.4" y2="392.87" stroke="#6ea85a" stroke-width="1.9"/>
<line x1="432.4" y1="379.15" x2="496.4" y2="378.3" stroke="#800c2e" stroke-width="1.9"/>
<line x1="432.4" y1="412.69" x2="496.4" y2="444.88" stroke="#dea44c" stroke-width="1.9"/>
<line x1="432.4" y1="408.2" x2="496.4" y2="443.78" stroke="#8e8cae" stroke-width="1.9"/>
<line x1="432.4" y1="399.99" x2="496.4" y2="397.45" stroke="#b0166c" stroke-width="1.9"/>
<line x1="432.4" y1="412.86" x2="432.4" y2="374.41" stroke="#1a1a1a" stroke-width="1.1"/>
<line x1="432.4" y1="455.21" x2="432.4" y2="441.66" stroke="#1a1a1a" stroke-width="1.1"/>
<line x1="496.4" y1="401.34" x2="496.4" y2="388.64" stroke="#1a1a1a" stroke-width="1.1"/>
<line x1="496.4" y1="455.21" x2="496.4" y2="412.01" stroke="#1a1a1a" stroke-width="1.1"/>
<line x1="429.2" y1="374.41" x2="435.59999999999997" y2="374.41" stroke="#1a1a1a" stroke-width="1.2"/>
<line x1="429.2" y1="390.42" x2="435.59999999999997" y2="390.42" stroke="#1a1a1a" stroke-width="1.2"/>
<line x1="429.2" y1="393.89" x2="435.59999999999997" y2="393.89" stroke="#1a1a1a" stroke-width="1.2"/>
<line x1="429.2" y1="405.75" x2="435.59999999999997" y2="405.75" stroke="#1a1a1a" stroke-width="1.2"/>
<line x1="429.2" y1="406.93" x2="435.59999999999997" y2="406.93" stroke="#1a1a1a" stroke-width="1.2"/>
<line x1="429.2" y1="441.66" x2="435.59999999999997" y2="441.66" stroke="#1a1a1a" stroke-width="1.2"/>
<line x1="493.2" y1="388.64" x2="499.59999999999997" y2="388.64" stroke="#1a1a1a" stroke-width="1.2"/>
<line x1="493.2" y1="401.34" x2="499.59999999999997" y2="401.34" stroke="#1a1a1a" stroke-width="1.2"/>
<line x1="493.2" y1="412.01" x2="499.59999999999997" y2="412.01" stroke="#1a1a1a" stroke-width="1.2"/>
<line x1="493.2" y1="420.06" x2="499.59999999999997" y2="420.06" stroke="#1a1a1a" stroke-width="1.2"/>
<line x1="400.9" y1="370.3" x2="400.9" y2="459.5" stroke="#111" stroke-width="1.8"/>
<line x1="400.0" y1="458.6" x2="511.3" y2="458.6" stroke="#111" stroke-width="1.8"/>
<line x1="396.9" y1="458.6" x2="400.9" y2="458.6" stroke="#111" stroke-width="1.4"/>
<text x="393.09999999999997" y="460.55" font-size="7.3" text-anchor="end" fill="#222" stroke="#222" stroke-width="0.24">0</text>
<line x1="396.9" y1="450.13" x2="400.9" y2="450.13" stroke="#111" stroke-width="1.4"/>
<text x="393.09999999999997" y="452.08" font-size="7.3" text-anchor="end" fill="#222" stroke="#222" stroke-width="0.24">10</text>
<line x1="396.9" y1="441.66" x2="400.9" y2="441.66" stroke="#111" stroke-width="1.4"/>
<text x="393.09999999999997" y="443.61" font-size="7.3" text-anchor="end" fill="#222" stroke="#222" stroke-width="0.24">20</text>
<line x1="396.9" y1="433.19" x2="400.9" y2="433.19" stroke="#111" stroke-width="1.4"/>
<text x="393.09999999999997" y="435.14" font-size="7.3" text-anchor="end" fill="#222" stroke="#222" stroke-width="0.24">30</text>
<line x1="396.9" y1="424.72" x2="400.9" y2="424.72" stroke="#111" stroke-width="1.4"/>
<text x="393.09999999999997" y="426.67" font-size="7.3" text-anchor="end" fill="#222" stroke="#222" stroke-width="0.24">40</text>
<line x1="396.9" y1="416.25" x2="400.9" y2="416.25" stroke="#111" stroke-width="1.4"/>
<text x="393.09999999999997" y="418.2" font-size="7.3" text-anchor="end" fill="#222" stroke="#222" stroke-width="0.24">50</text>
<line x1="396.9" y1="407.78" x2="400.9" y2="407.78" stroke="#111" stroke-width="1.4"/>
<text x="393.09999999999997" y="409.73" font-size="7.3" text-anchor="end" fill="#222" stroke="#222" stroke-width="0.24">60</text>
<line x1="396.9" y1="399.31" x2="400.9" y2="399.31" stroke="#111" stroke-width="1.4"/>
<text x="393.09999999999997" y="401.26" font-size="7.3" text-anchor="end" fill="#222" stroke="#222" stroke-width="0.24">70</text>
<line x1="396.9" y1="390.84" x2="400.9" y2="390.84" stroke="#111" stroke-width="1.4"/>
<text x="393.09999999999997" y="392.79" font-size="7.3" text-anchor="end" fill="#222" stroke="#222" stroke-width="0.24">80</text>
<line x1="396.9" y1="382.37" x2="400.9" y2="382.37" stroke="#111" stroke-width="1.4"/>
<text x="393.09999999999997" y="384.32" font-size="7.3" text-anchor="end" fill="#222" stroke="#222" stroke-width="0.24">90</text>
<line x1="396.9" y1="373.9" x2="400.9" y2="373.9" stroke="#111" stroke-width="1.4"/>
<text x="393.09999999999997" y="375.85" font-size="7.3" text-anchor="end" fill="#222" stroke="#222" stroke-width="0.24">100</text>
<circle cx="432.4" cy="383.47" r="3.0" fill="#d4d4d4" stroke="#1e1e1e" stroke-width="1.15"/>
<circle cx="496.4" cy="382.37" r="3.0" fill="#d4d4d4" stroke="#1e1e1e" stroke-width="1.15"/>
<polygon points="432.4,404.82 435.85,410.97 428.95,410.97" fill="#8e86be" stroke="#161640" stroke-width="1.3569999999999998" stroke-linejoin="miter"/>
<polygon points="496.4,440.40 499.85,446.55 492.95,446.55" fill="#8e86be" stroke="#161640" stroke-width="1.3569999999999998" stroke-linejoin="miter"/>
<circle cx="432.4" cy="455.21" r="3.0" fill="#5f626e" stroke="#0a0a0a" stroke-width="1.15"/>
<circle cx="496.4" cy="455.21" r="3.0" fill="#5f626e" stroke="#0a0a0a" stroke-width="1.15"/>
<polygon points="428.95,442.62 435.85,442.62 432.4,448.77" fill="#ffffff" stroke="#111111" stroke-width="1.3569999999999998" stroke-linejoin="miter"/>
<polygon points="492.95,445.50 499.85,445.50 496.4,451.65" fill="#ffffff" stroke="#111111" stroke-width="1.3569999999999998" stroke-linejoin="miter"/>
<rect x="429.25" y="419.20" width="6.30" height="6.30" fill="#f0b526" stroke="#2a2010" stroke-width="1.15"/>
<rect x="493.25" y="430.72" width="6.30" height="6.30" fill="#f0b526" stroke="#2a2010" stroke-width="1.15"/>
<polygon points="432.4,444.21 435.85,450.36 428.95,450.36" fill="#7a9acb" stroke="#14233f" stroke-width="1.3569999999999998" stroke-linejoin="miter"/>
<polygon points="496.4,426.42 499.85,432.57 492.95,432.57" fill="#7a9acb" stroke="#14233f" stroke-width="1.3569999999999998" stroke-linejoin="miter"/>
<polygon points="428.95,403.32 435.85,403.32 432.4,409.47" fill="#5e9c4c" stroke="#0c240c" stroke-width="1.3569999999999998" stroke-linejoin="miter"/>
<polygon points="492.95,390.10 499.85,390.10 496.4,396.25" fill="#5e9c4c" stroke="#0c240c" stroke-width="1.3569999999999998" stroke-linejoin="miter"/>
<circle cx="432.4" cy="399.99" r="3.0" fill="#c3187e" stroke="#2e0420" stroke-width="1.15"/>
<circle cx="496.4" cy="397.45" r="3.0" fill="#c3187e" stroke="#2e0420" stroke-width="1.15"/>
<polygon points="432.4,409.09 436.00,412.69 432.4,416.29 428.80,412.69" fill="#e4a43c" stroke="#2a1a04" stroke-width="1.15"/>
<polygon points="496.4,441.28 500.00,444.88 496.4,448.48 492.80,444.88" fill="#e4a43c" stroke="#2a1a04" stroke-width="1.15"/>
<circle cx="432.4" cy="379.15" r="3.0" fill="#8f0f33" stroke="#22040e" stroke-width="1.15"/>
<circle cx="496.4" cy="378.3" r="3.0" fill="#8f0f33" stroke="#22040e" stroke-width="1.15"/>
<text x="432.4" y="471.0" font-size="7.8" text-anchor="middle" fill="#222" stroke="#222" stroke-width="0.24">D28</text>
<text x="496.4" y="471.0" font-size="7.8" text-anchor="middle" fill="#222" stroke="#222" stroke-width="0.24">D100</text>
<text x="0" y="0" font-size="11.7" transform="translate(373.8,416.3) rotate(-90)" text-anchor="middle" textLength="87.5" lengthAdjust="spacingAndGlyphs" fill="#222" stroke="#222" stroke-width="0.15">Mean chimerism (%)</text>
<text x="9.6" y="501.6" font-size="13.8" fill="#000" stroke="#000" stroke-width="0.55">C</text>
<line x1="19.2" y1="510.0" x2="35.2" y2="510.0" stroke="#1e1e1e" stroke-width="1.9"/>
<circle cx="27.2" cy="510.0" r="3.45" fill="#5f626e" stroke="#0a0a0a" stroke-width="1.4"/>
<text x="42.4" y="513.3" font-size="9.2" fill="#1e1e1e" stroke="#1e1e1e" stroke-width="0.3">UNTREATED HOST</text>
<text x="143.2" y="513.3" font-size="9.2" fill="#1e1e1e" stroke="#1e1e1e" stroke-width="0.3">(n = 7)</text>
<line x1="19.2" y1="527.15" x2="35.2" y2="527.15" stroke="#c4c4c4" stroke-width="1.9"/>
<circle cx="27.2" cy="527.15" r="3.45" fill="#d4d4d4" stroke="#1e1e1e" stroke-width="1.4"/>
<text x="42.4" y="530.45" font-size="9.2" fill="#1e1e1e" stroke="#1e1e1e" stroke-width="0.3">UNTREATED DONOR</text>
<text x="143.2" y="530.45" font-size="9.2" fill="#1e1e1e" stroke="#1e1e1e" stroke-width="0.3">(n = 7)</text>
<line x1="19.2" y1="544.3" x2="35.2" y2="544.3" stroke="#88b2de" stroke-width="1.9"/>
<polygon points="27.2,540.41 31.17,547.48 23.23,547.48" fill="#7a9acb" stroke="#14233f" stroke-width="1.652" stroke-linejoin="miter"/>
<text x="42.4" y="547.6" font-size="9.2" fill="#1e1e1e" stroke="#1e1e1e" stroke-width="0.3">TBI 300/ATS/CTX</text>
<text x="143.2" y="547.6" font-size="9.2" fill="#1e1e1e" stroke="#1e1e1e" stroke-width="0.3">(n = 8)</text>
<line x1="19.2" y1="561.45" x2="35.2" y2="561.45" stroke="#e6cf58" stroke-width="1.9"/>
<rect x="23.58" y="557.83" width="7.25" height="7.25" fill="#f0b526" stroke="#2a2010" stroke-width="1.4"/>
<text x="42.4" y="564.75" font-size="9.2" fill="#1e1e1e" stroke="#1e1e1e" stroke-width="0.3">TBI 600/ATS/CTX</text>
<text x="143.2" y="564.75" font-size="9.2" fill="#1e1e1e" stroke="#1e1e1e" stroke-width="0.3">(n = 9)</text>
<line x1="19.2" y1="578.6" x2="35.2" y2="578.6" stroke="#6ea85a" stroke-width="1.9"/>
<polygon points="23.23,575.42 31.17,575.42 27.2,582.49" fill="#5e9c4c" stroke="#0c240c" stroke-width="1.652" stroke-linejoin="miter"/>
<text x="42.4" y="581.9" font-size="9.2" fill="#1e1e1e" stroke="#1e1e1e" stroke-width="0.3">TBI 800/ATS/CTX</text>
<text x="143.2" y="581.9" font-size="9.2" fill="#1e1e1e" stroke="#1e1e1e" stroke-width="0.3">(n = 11)</text>
<line x1="19.2" y1="595.75" x2="35.2" y2="595.75" stroke="#800c2e" stroke-width="1.9"/>
<circle cx="27.2" cy="595.75" r="3.45" fill="#8f0f33" stroke="#22040e" stroke-width="1.4"/>
<text x="42.4" y="599.05" font-size="9.2" fill="#1e1e1e" stroke="#1e1e1e" stroke-width="0.3">TBI 1200/ATS/CTX</text>
<text x="143.2" y="599.05" font-size="9.2" fill="#1e1e1e" stroke="#1e1e1e" stroke-width="0.3">(n = 8)</text>
<line x1="19.2" y1="612.9" x2="35.2" y2="612.9" stroke="#dea44c" stroke-width="1.9"/>
<polygon points="27.2,608.76 31.34,612.9 27.2,617.04 23.06,612.9" fill="#e4a43c" stroke="#2a1a04" stroke-width="1.4"/>
<text x="42.4" y="616.2" font-size="9.2" fill="#1e1e1e" stroke="#1e1e1e" stroke-width="0.3">TLI/ATS</text>
<text x="143.2" y="616.2" font-size="9.2" fill="#1e1e1e" stroke="#1e1e1e" stroke-width="0.3">(n = 14)</text>
<line x1="19.2" y1="630.05" x2="35.2" y2="630.05" stroke="#8e8cae" stroke-width="1.9"/>
<polygon points="27.2,626.16 31.17,633.23 23.23,633.23" fill="#8e86be" stroke="#161640" stroke-width="1.652" stroke-linejoin="miter"/>
<text x="42.4" y="633.35" font-size="9.2" fill="#1e1e1e" stroke="#1e1e1e" stroke-width="0.3">TLI/CTX</text>
<text x="143.2" y="633.35" font-size="9.2" fill="#1e1e1e" stroke="#1e1e1e" stroke-width="0.3">(n = 5)</text>
<line x1="19.2" y1="647.2" x2="35.2" y2="647.2" stroke="#b0166c" stroke-width="1.9"/>
<circle cx="27.2" cy="647.2" r="3.45" fill="#c3187e" stroke="#2e0420" stroke-width="1.4"/>
<text x="42.4" y="650.5" font-size="9.2" fill="#1e1e1e" stroke="#1e1e1e" stroke-width="0.3">TLI/ATS/CTX</text>
<text x="143.2" y="650.5" font-size="9.2" fill="#1e1e1e" stroke="#1e1e1e" stroke-width="0.3">(n = 10)</text>
<line x1="271.4" y1="596.33" x2="345.2" y2="592.18" stroke="#1e1e1e" stroke-width="1.9"/>
<line x1="271.4" y1="559.5" x2="345.2" y2="556.82" stroke="#c4c4c4" stroke-width="1.9"/>
<line x1="271.4" y1="595.11" x2="345.2" y2="587.31" stroke="#88b2de" stroke-width="1.9"/>
<line x1="271.4" y1="588.52" x2="345.2" y2="578.28" stroke="#e6cf58" stroke-width="1.9"/>
<line x1="271.4" y1="584.62" x2="345.2" y2="561.94" stroke="#6ea85a" stroke-width="1.9"/>
<line x1="271.4" y1="592.43" x2="345.2" y2="561.94" stroke="#800c2e" stroke-width="1.9"/>
<line x1="271.4" y1="589.74" x2="345.2" y2="576.33" stroke="#dea44c" stroke-width="1.9"/>
<line x1="271.4" y1="597.06" x2="345.2" y2="590.48" stroke="#8e8cae" stroke-width="1.9"/>
<line x1="271.4" y1="604.38" x2="345.2" y2="571.94" stroke="#b0166c" stroke-width="1.9"/>
<line x1="271.4" y1="564.38" x2="271.4" y2="554.38" stroke="#1a1a1a" stroke-width="1.1"/>
<line x1="271.4" y1="609.74" x2="271.4" y2="583.65" stroke="#1a1a1a" stroke-width="1.1"/>
<line x1="345.2" y1="599.26" x2="345.2" y2="553.41" stroke="#1a1a1a" stroke-width="1.1"/>
<line x1="268.2" y1="554.38" x2="274.59999999999997" y2="554.38" stroke="#1a1a1a" stroke-width="1.2"/>
<line x1="268.2" y1="564.38" x2="274.59999999999997" y2="564.38" stroke="#1a1a1a" stroke-width="1.2"/>
<line x1="268.2" y1="609.74" x2="274.59999999999997" y2="609.74" stroke="#1a1a1a" stroke-width="1.2"/>
<line x1="268.2" y1="581.21" x2="274.59999999999997" y2="581.21" stroke="#1a1a1a" stroke-width="1.2"/>
<line x1="342.0" y1="553.41" x2="348.4" y2="553.41" stroke="#1a1a1a" stroke-width="1.2"/>
<line x1="342.0" y1="567.55" x2="348.4" y2="567.55" stroke="#1a1a1a" stroke-width="1.2"/>
<line x1="342.0" y1="599.26" x2="348.4" y2="599.26" stroke="#1a1a1a" stroke-width="1.2"/>
<line x1="235.0" y1="536.3" x2="235.0" y2="638.1999999999999" stroke="#111" stroke-width="1.6"/>
<line x1="234.2" y1="637.3" x2="371.75" y2="637.3" stroke="#111" stroke-width="1.6"/>
<line x1="231.0" y1="637.3" x2="235.0" y2="637.3" stroke="#111" stroke-width="1.4"/>
<text x="227.5" y="640.2" font-size="8.0" text-anchor="end" fill="#222" stroke="#222" stroke-width="0.24">10</text>
<line x1="231.0" y1="612.91" x2="235.0" y2="612.91" stroke="#111" stroke-width="1.4"/>
<text x="227.5" y="615.81" font-size="8.0" text-anchor="end" fill="#222" stroke="#222" stroke-width="0.24">20</text>
<line x1="231.0" y1="588.52" x2="235.0" y2="588.52" stroke="#111" stroke-width="1.4"/>
<text x="227.5" y="591.42" font-size="8.0" text-anchor="end" fill="#222" stroke="#222" stroke-width="0.24">30</text>
<line x1="231.0" y1="564.14" x2="235.0" y2="564.14" stroke="#111" stroke-width="1.4"/>
<text x="227.5" y="567.04" font-size="8.0" text-anchor="end" fill="#222" stroke="#222" stroke-width="0.24">40</text>
<line x1="231.0" y1="539.75" x2="235.0" y2="539.75" stroke="#111" stroke-width="1.4"/>
<text x="227.5" y="542.65" font-size="8.0" text-anchor="end" fill="#222" stroke="#222" stroke-width="0.24">50</text>
<line x1="271.4" y1="637.3" x2="271.4" y2="640.8" stroke="#111" stroke-width="1.3"/>
<line x1="345.2" y1="637.3" x2="345.2" y2="640.8" stroke="#111" stroke-width="1.3"/>
<circle cx="271.4" cy="559.5" r="3.0" fill="#d4d4d4" stroke="#1e1e1e" stroke-width="1.15"/>
<circle cx="345.2" cy="556.82" r="3.0" fill="#d4d4d4" stroke="#1e1e1e" stroke-width="1.15"/>
<polygon points="271.4,593.68 274.85,599.83 267.95,599.83" fill="#8e86be" stroke="#161640" stroke-width="1.3569999999999998" stroke-linejoin="miter"/>
<polygon points="345.2,587.10 348.65,593.25 341.75,593.25" fill="#8e86be" stroke="#161640" stroke-width="1.3569999999999998" stroke-linejoin="miter"/>
<circle cx="271.4" cy="596.33" r="3.0" fill="#5f626e" stroke="#0a0a0a" stroke-width="1.15"/>
<circle cx="345.2" cy="592.18" r="3.0" fill="#5f626e" stroke="#0a0a0a" stroke-width="1.15"/>
<rect x="268.25" y="585.37" width="6.30" height="6.30" fill="#f0b526" stroke="#2a2010" stroke-width="1.15"/>
<rect x="342.05" y="575.13" width="6.30" height="6.30" fill="#f0b526" stroke="#2a2010" stroke-width="1.15"/>
<polygon points="271.4,591.73 274.85,597.88 267.95,597.88" fill="#7a9acb" stroke="#14233f" stroke-width="1.3569999999999998" stroke-linejoin="miter"/>
<polygon points="345.2,583.93 348.65,590.08 341.75,590.08" fill="#7a9acb" stroke="#14233f" stroke-width="1.3569999999999998" stroke-linejoin="miter"/>
<polygon points="267.95,581.85 274.85,581.85 271.4,588.00" fill="#5e9c4c" stroke="#0c240c" stroke-width="1.3569999999999998" stroke-linejoin="miter"/>
<polygon points="341.75,559.17 348.65,559.17 345.2,565.32" fill="#5e9c4c" stroke="#0c240c" stroke-width="1.3569999999999998" stroke-linejoin="miter"/>
<circle cx="271.4" cy="604.38" r="3.0" fill="#c3187e" stroke="#2e0420" stroke-width="1.15"/>
<circle cx="345.2" cy="571.94" r="3.0" fill="#c3187e" stroke="#2e0420" stroke-width="1.15"/>
<polygon points="271.4,586.14 275.00,589.74 271.4,593.34 267.80,589.74" fill="#e4a43c" stroke="#2a1a04" stroke-width="1.15"/>
<polygon points="345.2,572.73 348.80,576.33 345.2,579.93 341.60,576.33" fill="#e4a43c" stroke="#2a1a04" stroke-width="1.15"/>
<circle cx="271.4" cy="592.43" r="3.0" fill="#8f0f33" stroke="#22040e" stroke-width="1.15"/>
<circle cx="345.2" cy="561.94" r="3.0" fill="#8f0f33" stroke="#22040e" stroke-width="1.15"/>
<text x="271.8" y="651.5" font-size="8.1" textLength="22.2" lengthAdjust="spacingAndGlyphs" text-anchor="middle" fill="#222" stroke="#222" stroke-width="0.24">DAY 0</text>
<text x="345.2" y="651.5" font-size="8.1" textLength="26.2" lengthAdjust="spacingAndGlyphs" text-anchor="middle" fill="#222" stroke="#222" stroke-width="0.24">DAY 28</text>
<text x="0" y="0" font-size="11.4" transform="translate(208.0,586.7) rotate(-90)" text-anchor="middle" textLength="30.8" lengthAdjust="spacingAndGlyphs" fill="#222" stroke="#222" stroke-width="0.15">Hct (%)</text>
<text x="9.6" y="685.0" font-size="13.0" font-weight="bold" fill="#000" stroke="#000" stroke-width="0.1">D</text>
<text x="33.1" y="702.2" font-size="10.2" textLength="36.3" lengthAdjust="spacingAndGlyphs" fill="#1e1e1e" stroke="#1e1e1e" stroke-width="0.15">β-THAL</text>
<text x="70.1" y="697.6" font-size="6.2" textLength="9.0" lengthAdjust="spacingAndGlyphs" fill="#1e1e1e" stroke="#1e1e1e" stroke-width="0.24">+/-</text>
<text x="81.9" y="702.2" font-size="10.2" textLength="32.0" lengthAdjust="spacingAndGlyphs" fill="#1e1e1e" stroke="#1e1e1e" stroke-width="0.15">HW-80</text>
<text x="50.4" y="713.1" font-size="10.2" textLength="46.2" lengthAdjust="spacingAndGlyphs" fill="#1e1e1e" stroke="#1e1e1e" stroke-width="0.15">PRE-BMT</text>
<text x="141.4" y="702.2" font-size="10.2" textLength="36.3" lengthAdjust="spacingAndGlyphs" fill="#1e1e1e" stroke="#1e1e1e" stroke-width="0.15">β-THAL</text>
<text x="178.39999999999998" y="697.6" font-size="6.2" textLength="9.0" lengthAdjust="spacingAndGlyphs" fill="#1e1e1e" stroke="#1e1e1e" stroke-width="0.24">+/-</text>
<text x="190.2" y="702.2" font-size="10.2" textLength="32.0" lengthAdjust="spacingAndGlyphs" fill="#1e1e1e" stroke="#1e1e1e" stroke-width="0.15">HW-80</text>
<text x="155.0" y="713.1" font-size="10.2" textLength="53.7" lengthAdjust="spacingAndGlyphs" fill="#1e1e1e" stroke="#1e1e1e" stroke-width="0.15">POST-BMT</text>
<text x="272.75" y="704.75" font-size="8.8" textLength="47.2" lengthAdjust="spacingAndGlyphs" fill="#1e1e1e" stroke="#1e1e1e" stroke-width="0.15">WT BALB/c</text>
<clipPath id="c11"><rect x="19.2" y="718.3" width="105.3" height="97.3"/></clipPath>
<filter id="f11" x="-5%" y="-5%" width="110%" height="110%"><feGaussianBlur stdDeviation="0.7"/></filter>
<g clip-path="url(#c11)"><g filter="url(#f11)">
<rect x="17.2" y="716.3" width="109.3" height="101.3" fill="#fbf7fa"/>
<circle cx="119.1" cy="763.4" r="2.61" fill="#eddcea" stroke="#ddbcd6" stroke-width="1.3"/>
<circle cx="72.7" cy="776.0" r="2.74" fill="#eddcea" stroke="#ddbcd6" stroke-width="1.3"/>
<circle cx="36.8" cy="768.2" r="2.81" fill="#ebe0f2" stroke="#d8c0e0" stroke-width="1.3"/>
<circle cx="86.3" cy="797.2" r="2.77" fill="#eddcea" stroke="#ddbcd6" stroke-width="1.3"/>
<circle cx="26.7" cy="746.6" r="2.89" fill="#ebe0f2" stroke="#d8c0e0" stroke-width="1.3"/>
<circle cx="26.3" cy="798.9" r="2.60" fill="#ebe0f2" stroke="#d8c0e0" stroke-width="1.3"/>
<circle cx="93.4" cy="719.6" r="2.58" fill="#eddcea" stroke="#ddbcd6" stroke-width="1.3"/>
<circle cx="125.5" cy="815.0" r="2.76" fill="#eddcea" stroke="#ddbcd6" stroke-width="1.3"/>
<circle cx="89.0" cy="778.9" r="2.58" fill="#ebe0f2" stroke="#d8c0e0" stroke-width="1.3"/>
<circle cx="33.7" cy="716.8" r="2.73" fill="#efe2ef" stroke="#dfc2da" stroke-width="1.3"/>
<circle cx="75.0" cy="721.5" r="2.45" fill="#eddcea" stroke="#ddbcd6" stroke-width="1.3"/>
<circle cx="37.4" cy="740.3" r="2.45" fill="#efe2ef" stroke="#dfc2da" stroke-width="1.3"/>
<circle cx="19.5" cy="763.2" r="2.44" fill="#ebe0f2" stroke="#d8c0e0" stroke-width="1.3"/>
<circle cx="65.2" cy="802.3" r="2.68" fill="#ebe0f2" stroke="#d8c0e0" stroke-width="1.3"/>
<circle cx="74.0" cy="781.4" r="2.78" fill="#efe2ef" stroke="#dfc2da" stroke-width="1.3"/>
<circle cx="67.1" cy="744.0" r="2.69" fill="#ebe0f2" stroke="#d8c0e0" stroke-width="1.3"/>
<circle cx="109.7" cy="788.4" r="2.63" fill="#eddcea" stroke="#ddbcd6" stroke-width="1.3"/>
<circle cx="51.3" cy="739.0" r="2.53" fill="#ebe0f2" stroke="#d8c0e0" stroke-width="1.3"/>
<circle cx="48.4" cy="722.6" r="2.51" fill="#eddcea" stroke="#ddbcd6" stroke-width="1.3"/>
<circle cx="101.5" cy="756.7" r="2.65" fill="#ebe0f2" stroke="#d8c0e0" stroke-width="1.3"/>
<circle cx="122.8" cy="802.8" r="2.72" fill="#efe2ef" stroke="#dfc2da" stroke-width="1.3"/>
<circle cx="16.3" cy="737.0" r="2.90" fill="#eddcea" stroke="#ddbcd6" stroke-width="1.3"/>
<circle cx="125.3" cy="756.4" r="2.45" fill="#eddcea" stroke="#ddbcd6" stroke-width="1.3"/>
<circle cx="24.3" cy="780.3" r="2.47" fill="#eddcea" stroke="#ddbcd6" stroke-width="1.3"/>
<circle cx="102.8" cy="743.2" r="2.65" fill="#ebe0f2" stroke="#d8c0e0" stroke-width="1.3"/>
<circle cx="123.5" cy="793.6" r="2.58" fill="#efe2ef" stroke="#dfc2da" stroke-width="1.3"/>
<circle cx="29.3" cy="740.8" r="2.86" fill="#ebe0f2" stroke="#d8c0e0" stroke-width="1.3"/>
<circle cx="27.4" cy="721.5" r="2.79" fill="#eddcea" stroke="#ddbcd6" stroke-width="1.3"/>
<circle cx="37.4" cy="790.9" r="2.52" fill="#eddcea" stroke="#ddbcd6" stroke-width="1.3"/>
<circle cx="29.2" cy="758.8" r="2.87" fill="#eddcea" stroke="#ddbcd6" stroke-width="1.3"/>
<circle cx="50.1" cy="806.7" r="2.78" fill="#ebe0f2" stroke="#d8c0e0" stroke-width="1.3"/>
<circle cx="39.7" cy="756.0" r="2.52" fill="#ebe0f2" stroke="#d8c0e0" stroke-width="1.3"/>
<circle cx="111.3" cy="781.6" r="2.63" fill="#efe2ef" stroke="#dfc2da" stroke-width="1.3"/>
<circle cx="27.4" cy="817.5" r="2.87" fill="#efe2ef" stroke="#dfc2da" stroke-width="1.3"/>
<circle cx="102.2" cy="749.3" r="2.80" fill="#eddcea" stroke="#ddbcd6" stroke-width="1.3"/>
<circle cx="43.2" cy="777.4" r="2.77" fill="#efe2ef" stroke="#dfc2da" stroke-width="1.3"/>
<circle cx="80.1" cy="804.8" r="2.49" fill="#eddcea" stroke="#ddbcd6" stroke-width="1.3"/>
<circle cx="36.5" cy="731.2" r="2.85" fill="#ebe0f2" stroke="#d8c0e0" stroke-width="1.3"/>
<circle cx="117.3" cy="799.8" r="2.45" fill="#ebe0f2" stroke="#d8c0e0" stroke-width="1.3"/>
<circle cx="44.0" cy="734.9" r="2.88" fill="#efe2ef" stroke="#dfc2da" stroke-width="1.3"/>
<circle cx="98.5" cy="812.4" r="2.88" fill="#efe2ef" stroke="#dfc2da" stroke-width="1.3"/>
<circle cx="38.1" cy="813.4" r="2.73" fill="#ebe0f2" stroke="#d8c0e0" stroke-width="1.3"/>
<circle cx="63.1" cy="726.0" r="2.89" fill="#eddcea" stroke="#ddbcd6" stroke-width="1.3"/>
<circle cx="20.5" cy="814.7" r="2.41" fill="#eddcea" stroke="#ddbcd6" stroke-width="1.3"/>
<circle cx="42.7" cy="788.1" r="2.53" fill="#ebe0f2" stroke="#d8c0e0" stroke-width="1.3"/>
<circle cx="44.8" cy="800.4" r="2.87" fill="#eddcea" stroke="#ddbcd6" stroke-width="1.3"/>
<circle cx="82.6" cy="745.6" r="2.56" fill="#efe2ef" stroke="#dfc2da" stroke-width="1.3"/>
<circle cx="23.9" cy="738.9" r="2.84" fill="#efe2ef" stroke="#dfc2da" stroke-width="1.3"/>
<circle cx="118.3" cy="736.4" r="2.83" fill="#eddcea" stroke="#ddbcd6" stroke-width="1.3"/>
<circle cx="18.0" cy="743.1" r="2.65" fill="#ebe0f2" stroke="#d8c0e0" stroke-width="1.3"/>
<circle cx="125.3" cy="783.2" r="2.50" fill="#efe2ef" stroke="#dfc2da" stroke-width="1.3"/>
<circle cx="18.2" cy="809.3" r="2.83" fill="#efe2ef" stroke="#dfc2da" stroke-width="1.3"/>
<circle cx="18.6" cy="781.0" r="2.50" fill="#eddcea" stroke="#ddbcd6" stroke-width="1.3"/>
<circle cx="69.9" cy="790.8" r="2.70" fill="#efe2ef" stroke="#dfc2da" stroke-width="1.3"/>
<circle cx="51.7" cy="818.5" r="2.51" fill="#eddcea" stroke="#ddbcd6" stroke-width="1.3"/>
<circle cx="24.6" cy="771.7" r="2.78" fill="#eddcea" stroke="#ddbcd6" stroke-width="1.3"/>
<circle cx="98.2" cy="788.0" r="2.43" fill="#eddcea" stroke="#ddbcd6" stroke-width="1.3"/>
<circle cx="104.5" cy="809.8" r="2.48" fill="#eddcea" stroke="#ddbcd6" stroke-width="1.3"/>
<circle cx="62.6" cy="797.0" r="2.48" fill="#efe2ef" stroke="#dfc2da" stroke-width="1.3"/>
<circle cx="112.3" cy="774.5" r="2.53" fill="#efe2ef" stroke="#dfc2da" stroke-width="1.3"/>
<circle cx="85.8" cy="754.8" r="2.73" fill="#eddcea" stroke="#ddbcd6" stroke-width="1.3"/>
<circle cx="81.1" cy="778.2" r="2.73" fill="#ebe0f2" stroke="#d8c0e0" stroke-width="1.3"/>
<circle cx="98.0" cy="775.3" r="2.43" fill="#eddcea" stroke="#ddbcd6" stroke-width="1.3"/>
<circle cx="25.5" cy="792.8" r="2.48" fill="#efe2ef" stroke="#dfc2da" stroke-width="1.3"/>
<circle cx="69.7" cy="739.1" r="2.76" fill="#efe2ef" stroke="#dfc2da" stroke-width="1.3"/>
<circle cx="93.9" cy="766.7" r="2.45" fill="#efe2ef" stroke="#dfc2da" stroke-width="1.3"/>
<circle cx="84.6" cy="810.4" r="2.54" fill="#efe2ef" stroke="#dfc2da" stroke-width="1.3"/>
<circle cx="44.7" cy="716.5" r="2.45" fill="#efe2ef" stroke="#dfc2da" stroke-width="1.3"/>
<circle cx="49.7" cy="785.4" r="2.42" fill="#efe2ef" stroke="#dfc2da" stroke-width="1.3"/>
<circle cx="117.0" cy="783.5" r="2.56" fill="#efe2ef" stroke="#dfc2da" stroke-width="1.3"/>
<circle cx="31.4" cy="766.6" r="2.73" fill="#eddcea" stroke="#ddbcd6" stroke-width="1.3"/>
<circle cx="109.4" cy="803.0" r="2.71" fill="#efe2ef" stroke="#dfc2da" stroke-width="1.3"/>
<circle cx="85.8" cy="766.3" r="2.77" fill="#efe2ef" stroke="#dfc2da" stroke-width="1.3"/>
<circle cx="125.5" cy="762.0" r="2.77" fill="#eddcea" stroke="#ddbcd6" stroke-width="1.3"/>
<circle cx="113.3" cy="719.6" r="2.72" fill="#efe2ef" stroke="#dfc2da" stroke-width="1.3"/>
<circle cx="50.6" cy="797.1" r="2.79" fill="#efe2ef" stroke="#dfc2da" stroke-width="1.3"/>
<circle cx="18.3" cy="729.3" r="2.77" fill="#eddcea" stroke="#ddbcd6" stroke-width="1.3"/>
<circle cx="66.8" cy="717.9" r="2.66" fill="#ebe0f2" stroke="#d8c0e0" stroke-width="1.3"/>
<circle cx="108.5" cy="739.8" r="2.72" fill="#eddcea" stroke="#ddbcd6" stroke-width="1.3"/>
<circle cx="92.4" cy="735.9" r="2.81" fill="#eddcea" stroke="#ddbcd6" stroke-width="1.3"/>
<circle cx="46.5" cy="751.0" r="2.57" fill="#ebe0f2" stroke="#d8c0e0" stroke-width="1.3"/>
<circle cx="117.1" cy="724.3" r="2.60" fill="#efe2ef" stroke="#dfc2da" stroke-width="1.3"/>
<circle cx="58.1" cy="774.1" r="2.70" fill="#eddcea" stroke="#ddbcd6" stroke-width="1.3"/>
<circle cx="87.6" cy="789.4" r="2.57" fill="#ebe0f2" stroke="#d8c0e0" stroke-width="1.3"/>
<circle cx="76.0" cy="797.0" r="2.41" fill="#eddcea" stroke="#ddbcd6" stroke-width="1.3"/>
<circle cx="106.3" cy="721.9" r="2.64" fill="#ebe0f2" stroke="#d8c0e0" stroke-width="1.3"/>
<circle cx="50.9" cy="754.7" r="2.85" fill="#ebe0f2" stroke="#d8c0e0" stroke-width="1.3"/>
<circle cx="39.4" cy="803.2" r="2.40" fill="#efe2ef" stroke="#dfc2da" stroke-width="1.3"/>
<circle cx="124.0" cy="769.5" r="2.47" fill="#efe2ef" stroke="#dfc2da" stroke-width="1.3"/>
<circle cx="80.0" cy="736.1" r="2.46" fill="#ebe0f2" stroke="#d8c0e0" stroke-width="1.3"/>
<circle cx="83.6" cy="718.2" r="2.44" fill="#efe2ef" stroke="#dfc2da" stroke-width="1.3"/>
<circle cx="46.2" cy="764.2" r="2.67" fill="#efe2ef" stroke="#dfc2da" stroke-width="1.3"/>
<circle cx="37.5" cy="779.1" r="2.87" fill="#ebe0f2" stroke="#d8c0e0" stroke-width="1.3"/>
<circle cx="92.7" cy="748.6" r="2.49" fill="#ebe0f2" stroke="#d8c0e0" stroke-width="1.3"/>
<circle cx="55.8" cy="779.3" r="2.88" fill="#ebe0f2" stroke="#d8c0e0" stroke-width="1.3"/>
<circle cx="58.0" cy="758.0" r="2.72" fill="#ebe0f2" stroke="#d8c0e0" stroke-width="1.3"/>
<circle cx="108.8" cy="758.9" r="2.45" fill="#eddcea" stroke="#ddbcd6" stroke-width="1.3"/>
<circle cx="92.1" cy="809.4" r="2.86" fill="#eddcea" stroke="#ddbcd6" stroke-width="1.3"/>
<circle cx="124.0" cy="727.2" r="2.88" fill="#efe2ef" stroke="#dfc2da" stroke-width="1.3"/>
<circle cx="37.2" cy="722.6" r="2.55" fill="#ebe0f2" stroke="#d8c0e0" stroke-width="1.3"/>
<circle cx="109.7" cy="817.6" r="2.69" fill="#eddcea" stroke="#ddbcd6" stroke-width="1.3"/>
<circle cx="52.6" cy="763.5" r="2.84" fill="#ebe0f2" stroke="#d8c0e0" stroke-width="1.3"/>
<circle cx="94.2" cy="802.5" r="2.74" fill="#eddcea" stroke="#ddbcd6" stroke-width="1.3"/>
<circle cx="36.4" cy="762.2" r="2.84" fill="#eddcea" stroke="#ddbcd6" stroke-width="1.3"/>
<circle cx="44.9" cy="809.4" r="2.82" fill="#efe2ef" stroke="#dfc2da" stroke-width="1.3"/>
<circle cx="116.0" cy="806.2" r="2.83" fill="#eddcea" stroke="#ddbcd6" stroke-width="1.3"/>
<circle cx="93.5" cy="794.6" r="2.83" fill="#eddcea" stroke="#ddbcd6" stroke-width="1.3"/>
<circle cx="17.4" cy="752.0" r="2.42" fill="#ebe0f2" stroke="#d8c0e0" stroke-width="1.3"/>
<circle cx="125.3" cy="717.7" r="2.80" fill="#ebe0f2" stroke="#d8c0e0" stroke-width="1.3"/>
<circle cx="56.9" cy="744.8" r="2.61" fill="#efe2ef" stroke="#dfc2da" stroke-width="1.3"/>
<circle cx="89.1" cy="773.2" r="2.42" fill="#eddcea" stroke="#ddbcd6" stroke-width="1.3"/>
<circle cx="59.6" cy="808.0" r="2.50" fill="#eddcea" stroke="#ddbcd6" stroke-width="1.3"/>
<circle cx="99.5" cy="720.5" r="2.81" fill="#efe2ef" stroke="#dfc2da" stroke-width="1.3"/>
<circle cx="24.4" cy="808.8" r="2.53" fill="#eddcea" stroke="#ddbcd6" stroke-width="1.3"/>
<circle cx="124.5" cy="740.5" r="2.51" fill="#efe2ef" stroke="#dfc2da" stroke-width="1.3"/>
<circle cx="74.4" cy="812.1" r="2.42" fill="#ebe0f2" stroke="#d8c0e0" stroke-width="1.3"/>
<circle cx="65.5" cy="784.3" r="2.71" fill="#ebe0f2" stroke="#d8c0e0" stroke-width="1.3"/>
<circle cx="102.8" cy="770.1" r="2.64" fill="#ebe0f2" stroke="#d8c0e0" stroke-width="1.3"/>
<circle cx="97.9" cy="739.9" r="2.88" fill="#ebe0f2" stroke="#d8c0e0" stroke-width="1.3"/>
<circle cx="103.5" cy="779.9" r="2.59" fill="#efe2ef" stroke="#dfc2da" stroke-width="1.3"/>
<circle cx="43.9" cy="816.5" r="2.87" fill="#efe2ef" stroke="#dfc2da" stroke-width="1.3"/>
<circle cx="20.6" cy="721.6" r="2.90" fill="#ebe0f2" stroke="#d8c0e0" stroke-width="1.3"/>
<circle cx="85.6" cy="725.9" r="2.46" fill="#efe2ef" stroke="#dfc2da" stroke-width="1.3"/>
<circle cx="24.5" cy="727.7" r="2.60" fill="#eddcea" stroke="#ddbcd6" stroke-width="1.3"/>
<circle cx="106.3" cy="753.4" r="2.51" fill="#efe2ef" stroke="#dfc2da" stroke-width="1.3"/>
<circle cx="89.0" cy="817.5" r="2.57" fill="#ebe0f2" stroke="#d8c0e0" stroke-width="1.3"/>
<circle cx="52.4" cy="772.0" r="2.81" fill="#ebe0f2" stroke="#d8c0e0" stroke-width="1.3"/>
<circle cx="47.7" cy="730.1" r="2.64" fill="#ebe0f2" stroke="#d8c0e0" stroke-width="1.3"/>
<circle cx="56.0" cy="790.3" r="2.72" fill="#eddcea" stroke="#ddbcd6" stroke-width="1.3"/>
<circle cx="57.0" cy="727.4" r="2.80" fill="#efe2ef" stroke="#dfc2da" stroke-width="1.3"/>
<circle cx="118.4" cy="812.4" r="2.68" fill="#eddcea" stroke="#ddbcd6" stroke-width="1.3"/>
<circle cx="88.4" cy="740.7" r="2.51" fill="#ebe0f2" stroke="#d8c0e0" stroke-width="1.3"/>
<circle cx="60.1" cy="750.2" r="2.54" fill="#efe2ef" stroke="#dfc2da" stroke-width="1.3"/>
<circle cx="118.0" cy="757.7" r="2.67" fill="#efe2ef" stroke="#dfc2da" stroke-width="1.3"/>
<circle cx="102.6" cy="733.8" r="2.77" fill="#ebe0f2" stroke="#d8c0e0" stroke-width="1.3"/>
<circle cx="107.1" cy="764.8" r="2.45" fill="#eddcea" stroke="#ddbcd6" stroke-width="1.3"/>
<circle cx="112.9" cy="768.6" r="2.88" fill="#efe2ef" stroke="#dfc2da" stroke-width="1.3"/>
<circle cx="45.9" cy="770.5" r="2.46" fill="#efe2ef" stroke="#dfc2da" stroke-width="1.3"/>
<circle cx="33.0" cy="794.9" r="2.84" fill="#efe2ef" stroke="#dfc2da" stroke-width="1.3"/>
<circle cx="16.4" cy="800.2" r="2.55" fill="#ebe0f2" stroke="#d8c0e0" stroke-width="1.3"/>
<circle cx="95.9" cy="725.3" r="2.43" fill="#efe2ef" stroke="#dfc2da" stroke-width="1.3"/>
<circle cx="122.5" cy="775.9" r="2.56" fill="#ebe0f2" stroke="#d8c0e0" stroke-width="1.3"/>
<circle cx="33.7" cy="801.2" r="2.62" fill="#efe2ef" stroke="#dfc2da" stroke-width="1.3"/>
<circle cx="50.9" cy="747.4" r="2.74" fill="#ebe0f2" stroke="#d8c0e0" stroke-width="1.3"/>
<circle cx="67.6" cy="815.2" r="2.48" fill="#ebe0f2" stroke="#d8c0e0" stroke-width="1.3"/>
<circle cx="31.9" cy="725.1" r="2.83" fill="#eddcea" stroke="#ddbcd6" stroke-width="1.3"/>
<circle cx="80.4" cy="787.3" r="2.69" fill="#ebe0f2" stroke="#d8c0e0" stroke-width="1.3"/>
<circle cx="31.3" cy="808.7" r="2.46" fill="#eddcea" stroke="#ddbcd6" stroke-width="1.3"/>
<circle cx="90.9" cy="730.3" r="2.75" fill="#efe2ef" stroke="#dfc2da" stroke-width="1.3"/>
<circle cx="22.0" cy="787.1" r="2.55" fill="#eddcea" stroke="#ddbcd6" stroke-width="1.3"/>
<circle cx="43.3" cy="746.2" r="2.78" fill="#ebe0f2" stroke="#d8c0e0" stroke-width="1.3"/>
<circle cx="68.8" cy="733.1" r="2.42" fill="#ebe0f2" stroke="#d8c0e0" stroke-width="1.3"/>
<circle cx="72.5" cy="802.6" r="2.66" fill="#eddcea" stroke="#ddbcd6" stroke-width="1.3"/>
<circle cx="32.5" cy="747.4" r="2.80" fill="#efe2ef" stroke="#dfc2da" stroke-width="1.3"/>
<circle cx="108.7" cy="796.6" r="2.44" fill="#eddcea" stroke="#ddbcd6" stroke-width="1.3"/>
<circle cx="23.0" cy="757.7" r="2.58" fill="#eddcea" stroke="#ddbcd6" stroke-width="1.3"/>
<circle cx="56.8" cy="737.6" r="2.58" fill="#ebe0f2" stroke="#d8c0e0" stroke-width="1.3"/>
<circle cx="115.3" cy="729.9" r="2.61" fill="#eddcea" stroke="#ddbcd6" stroke-width="1.3"/>
<circle cx="124.8" cy="746.1" r="2.66" fill="#efe2ef" stroke="#dfc2da" stroke-width="1.3"/>
<circle cx="42.9" cy="724.9" r="2.57" fill="#ebe0f2" stroke="#d8c0e0" stroke-width="1.3"/>
<circle cx="33.0" cy="775.5" r="2.64" fill="#ebe0f2" stroke="#d8c0e0" stroke-width="1.3"/>
<circle cx="16.3" cy="771.5" r="2.72" fill="#eddcea" stroke="#ddbcd6" stroke-width="1.3"/>
<circle cx="73.4" cy="728.3" r="2.41" fill="#eddcea" stroke="#ddbcd6" stroke-width="1.3"/>
<circle cx="92.7" cy="758.6" r="2.59" fill="#efe2ef" stroke="#dfc2da" stroke-width="1.3"/>
<circle cx="48.0" cy="790.8" r="2.65" fill="#eddcea" stroke="#ddbcd6" stroke-width="1.3"/>
<circle cx="52.9" cy="718.0" r="2.88" fill="#eddcea" stroke="#ddbcd6" stroke-width="1.3"/>
<circle cx="104.4" cy="791.3" r="2.41" fill="#efe2ef" stroke="#dfc2da" stroke-width="1.3"/>
<circle cx="112.5" cy="735.5" r="2.86" fill="#efe2ef" stroke="#dfc2da" stroke-width="1.3"/>
<circle cx="29.3" cy="734.1" r="2.63" fill="#efe2ef" stroke="#dfc2da" stroke-width="1.3"/>
<circle cx="81.9" cy="771.7" r="2.45" fill="#ebe0f2" stroke="#d8c0e0" stroke-width="1.3"/>
<circle cx="26.0" cy="752.9" r="2.68" fill="#eddcea" stroke="#ddbcd6" stroke-width="1.3"/>
<circle cx="73.2" cy="745.7" r="2.72" fill="#efe2ef" stroke="#dfc2da" stroke-width="1.3"/>
<circle cx="110.9" cy="726.1" r="2.68" fill="#eddcea" stroke="#ddbcd6" stroke-width="1.3"/>
<circle cx="87.8" cy="802.9" r="2.61" fill="#ebe0f2" stroke="#d8c0e0" stroke-width="1.3"/>
<circle cx="78.5" cy="816.1" r="2.89" fill="#efe2ef" stroke="#dfc2da" stroke-width="1.3"/>
<circle cx="56.6" cy="796.6" r="2.70" fill="#efe2ef" stroke="#dfc2da" stroke-width="1.3"/>
<circle cx="79.2" cy="751.3" r="2.72" fill="#ebe0f2" stroke="#d8c0e0" stroke-width="1.3"/>
<circle cx="111.8" cy="811.9" r="2.50" fill="#eddcea" stroke="#ddbcd6" stroke-width="1.3"/>
<circle cx="62.3" cy="817.5" r="2.43" fill="#ebe0f2" stroke="#d8c0e0" stroke-width="1.3"/>
<circle cx="58.5" cy="722.0" r="2.80" fill="#eddcea" stroke="#ddbcd6" stroke-width="1.3"/>
<circle cx="67.4" cy="749.6" r="2.60" fill="#eddcea" stroke="#ddbcd6" stroke-width="1.3"/>
<circle cx="114.9" cy="793.2" r="2.41" fill="#eddcea" stroke="#ddbcd6" stroke-width="1.3"/>
<circle cx="85.5" cy="783.4" r="2.53" fill="#ebe0f2" stroke="#d8c0e0" stroke-width="1.3"/>
<circle cx="99.1" cy="762.3" r="2.55" fill="#eddcea" stroke="#ddbcd6" stroke-width="1.3"/>
<circle cx="16.3" cy="715.4" r="2.85" fill="#ebe0f2" stroke="#d8c0e0" stroke-width="1.3"/>
<circle cx="62.3" cy="734.2" r="2.58" fill="#ebe0f2" stroke="#d8c0e0" stroke-width="1.3"/>
<circle cx="104.0" cy="800.5" r="2.55" fill="#efe2ef" stroke="#dfc2da" stroke-width="1.3"/>
<circle cx="124.9" cy="733.7" r="2.73" fill="#efe2ef" stroke="#dfc2da" stroke-width="1.3"/>
<circle cx="17.9" cy="794.4" r="2.50" fill="#ebe0f2" stroke="#d8c0e0" stroke-width="1.3"/>
<circle cx="64.6" cy="776.9" r="2.73" fill="#ebe0f2" stroke="#d8c0e0" stroke-width="1.3"/>
<circle cx="91.4" cy="784.0" r="2.79" fill="#efe2ef" stroke="#dfc2da" stroke-width="1.3"/>
<circle cx="49.9" cy="778.0" r="2.74" fill="#ebe0f2" stroke="#d8c0e0" stroke-width="1.3"/>
<circle cx="57.2" cy="813.6" r="2.68" fill="#ebe0f2" stroke="#d8c0e0" stroke-width="1.3"/>
<circle cx="104.4" cy="715.7" r="2.65" fill="#eddcea" stroke="#ddbcd6" stroke-width="1.3"/>
<circle cx="81.4" cy="792.9" r="2.59" fill="#eddcea" stroke="#ddbcd6" stroke-width="1.3"/>
<circle cx="77.6" cy="741.7" r="2.50" fill="#eddcea" stroke="#ddbcd6" stroke-width="1.3"/>
<circle cx="120.7" cy="818.6" r="2.60" fill="#ebe0f2" stroke="#d8c0e0" stroke-width="1.3"/>
<circle cx="124.2" cy="809.2" r="2.80" fill="#ebe0f2" stroke="#d8c0e0" stroke-width="1.3"/>
<circle cx="56.8" cy="802.8" r="2.78" fill="#efe2ef" stroke="#dfc2da" stroke-width="1.3"/>
<circle cx="126.9" cy="789.1" r="2.45" fill="#efe2ef" stroke="#dfc2da" stroke-width="1.3"/>
<circle cx="60.8" cy="715.5" r="2.75" fill="#efe2ef" stroke="#dfc2da" stroke-width="1.3"/>
<circle cx="117.6" cy="715.4" r="2.78" fill="#eddcea" stroke="#ddbcd6" stroke-width="1.3"/>
<circle cx="100.6" cy="805.1" r="2.83" fill="#eddcea" stroke="#ddbcd6" stroke-width="1.3"/>
<circle cx="53.0" cy="733.3" r="2.46" fill="#ebe0f2" stroke="#d8c0e0" stroke-width="1.3"/>
<circle cx="40.4" cy="772.6" r="2.69" fill="#ebe0f2" stroke="#d8c0e0" stroke-width="1.3"/>
<circle cx="64.2" cy="791.3" r="2.88" fill="#efe2ef" stroke="#dfc2da" stroke-width="1.3"/>
<circle cx="115.3" cy="741.6" r="2.46" fill="#ebe0f2" stroke="#d8c0e0" stroke-width="1.3"/>
<circle cx="102.3" cy="728.1" r="2.67" fill="#eddcea" stroke="#ddbcd6" stroke-width="1.3"/>
<circle cx="46.2" cy="741.4" r="2.50" fill="#eddcea" stroke="#ddbcd6" stroke-width="1.3"/>
<circle cx="72.1" cy="715.4" r="2.80" fill="#efe2ef" stroke="#dfc2da" stroke-width="1.3"/>
<circle cx="85.9" cy="735.5" r="2.83" fill="#eddcea" stroke="#ddbcd6" stroke-width="1.3"/>
<circle cx="117.3" cy="777.8" r="2.72" fill="#efe2ef" stroke="#dfc2da" stroke-width="1.3"/>
<circle cx="96.6" cy="818.5" r="2.47" fill="#eddcea" stroke="#ddbcd6" stroke-width="1.3"/>
<circle cx="103.6" cy="817.0" r="2.50" fill="#efe2ef" stroke="#dfc2da" stroke-width="1.3"/>
<circle cx="66.2" cy="809.6" r="2.45" fill="#efe2ef" stroke="#dfc2da" stroke-width="1.3"/>
<circle cx="16.2" cy="788.5" r="2.56" fill="#efe2ef" stroke="#dfc2da" stroke-width="1.3"/>
<circle cx="24.0" cy="715.6" r="2.78" fill="#ebe0f2" stroke="#d8c0e0" stroke-width="1.3"/>
<circle cx="97.7" cy="780.9" r="2.81" fill="#eddcea" stroke="#ddbcd6" stroke-width="1.3"/>
<circle cx="25.1" cy="764.1" r="2.43" fill="#efe2ef" stroke="#dfc2da" stroke-width="1.3"/>
<circle cx="68.4" cy="724.1" r="2.88" fill="#eddcea" stroke="#ddbcd6" stroke-width="1.3"/>
<circle cx="33.2" cy="754.4" r="2.70" fill="#efe2ef" stroke="#dfc2da" stroke-width="1.3"/>
<circle cx="97.1" cy="752.2" r="2.43" fill="#eddcea" stroke="#ddbcd6" stroke-width="1.3"/>
<circle cx="16.5" cy="758.2" r="2.88" fill="#eddcea" stroke="#ddbcd6" stroke-width="1.3"/>
<circle cx="45.8" cy="757.0" r="2.87" fill="#ebe0f2" stroke="#d8c0e0" stroke-width="1.3"/>
<circle cx="89.0" cy="715.7" r="2.64" fill="#efe2ef" stroke="#dfc2da" stroke-width="1.3"/>
<circle cx="41.9" cy="794.4" r="2.84" fill="#eddcea" stroke="#ddbcd6" stroke-width="1.3"/>
<circle cx="33.2" cy="817.4" r="2.66" fill="#eddcea" stroke="#ddbcd6" stroke-width="1.3"/>
<circle cx="16.2" cy="818.6" r="2.57" fill="#ebe0f2" stroke="#d8c0e0" stroke-width="1.3"/>
<circle cx="21.8" cy="803.8" r="2.43" fill="#ebe0f2" stroke="#d8c0e0" stroke-width="1.3"/>
<circle cx="96.6" cy="731.8" r="2.90" fill="#ebe0f2" stroke="#d8c0e0" stroke-width="1.3"/>
<circle cx="62.1" cy="740.5" r="2.43" fill="#eddcea" stroke="#ddbcd6" stroke-width="1.3"/>
<circle cx="83.2" cy="761.1" r="2.84" fill="#eddcea" stroke="#ddbcd6" stroke-width="1.3"/>
<circle cx="68.7" cy="796.7" r="2.57" fill="#eddcea" stroke="#ddbcd6" stroke-width="1.3"/>
<circle cx="78.2" cy="716.2" r="2.89" fill="#efe2ef" stroke="#dfc2da" stroke-width="1.3"/>
<circle cx="120.5" cy="788.7" r="2.64" fill="#ebe0f2" stroke="#d8c0e0" stroke-width="1.3"/>
<circle cx="50.0" cy="813.1" r="2.45" fill="#eddcea" stroke="#ddbcd6" stroke-width="1.3"/>
<circle cx="97.2" cy="715.3" r="2.51" fill="#ebe0f2" stroke="#d8c0e0" stroke-width="1.3"/>
<circle cx="75.5" cy="790.5" r="2.57" fill="#efe2ef" stroke="#dfc2da" stroke-width="1.3"/>
<circle cx="106.7" cy="774.7" r="2.71" fill="#efe2ef" stroke="#dfc2da" stroke-width="1.3"/>
<circle cx="56.9" cy="768.2" r="2.82" fill="#ebe0f2" stroke="#d8c0e0" stroke-width="1.3"/>
<circle cx="118.5" cy="770.9" r="2.71" fill="#eddcea" stroke="#ddbcd6" stroke-width="1.3"/>
<circle cx="80.4" cy="723.2" r="2.78" fill="#efe2ef" stroke="#dfc2da" stroke-width="1.3"/>
<circle cx="72.9" cy="818.3" r="2.64" fill="#ebe0f2" stroke="#d8c0e0" stroke-width="1.3"/>
<circle cx="127.4" cy="798.3" r="2.48" fill="#eddcea" stroke="#ddbcd6" stroke-width="1.3"/>
<circle cx="22.6" cy="733.3" r="2.60" fill="#ebe0f2" stroke="#d8c0e0" stroke-width="1.3"/>
<circle cx="74.4" cy="734.5" r="2.71" fill="#eddcea" stroke="#ddbcd6" stroke-width="1.3"/>
<circle cx="122.5" cy="751.2" r="2.47" fill="#ebe0f2" stroke="#d8c0e0" stroke-width="1.3"/>
<circle cx="104.5" cy="785.6" r="2.72" fill="#efe2ef" stroke="#dfc2da" stroke-width="1.3"/>
<circle cx="20.6" cy="775.8" r="2.41" fill="#eddcea" stroke="#ddbcd6" stroke-width="1.3"/>
<circle cx="38.0" cy="748.8" r="2.84" fill="#efe2ef" stroke="#dfc2da" stroke-width="1.3"/>
<circle cx="97.8" cy="745.6" r="2.74" fill="#efe2ef" stroke="#dfc2da" stroke-width="1.3"/>
<circle cx="46" cy="736" r="2.3" fill="#b4a8d4" stroke="#a090c4" stroke-width="1.2"/>
<circle cx="38" cy="756" r="2.1" fill="#b4a8d4" stroke="#a898c8" stroke-width="1.2"/>
<circle cx="66" cy="752" r="2.1" fill="#b4a8d4" stroke="#a494c6" stroke-width="1.2"/>
<circle cx="97" cy="752" r="2.1" fill="#b4a8d4" stroke="#a898c8" stroke-width="1.2"/>
<circle cx="73.6" cy="777" r="2.4" fill="#b4a8d4" stroke="#9888c0" stroke-width="1.2"/>
<circle cx="74.7" cy="795" r="2.3" fill="#b4a8d4" stroke="#9888c0" stroke-width="1.2"/>
<circle cx="32.7" cy="774" r="2.1" fill="#b4a8d4" stroke="#a898c8" stroke-width="1.2"/>
<circle cx="24" cy="772" r="2.0" fill="#b4a8d4" stroke="#b0a0cc" stroke-width="1.2"/>
</g></g>
<rect x="19.2" y="718.3" width="105.3" height="97.3" fill="none" stroke="#c09cb2" stroke-width="1.0"/>
<clipPath id="c22"><rect x="130.2" y="718.3" width="104.7" height="97.3"/></clipPath>
<filter id="f22" x="-5%" y="-5%" width="110%" height="110%"><feGaussianBlur stdDeviation="0.55"/></filter>
<g clip-path="url(#c22)"><g filter="url(#f22)">
<rect x="128.2" y="716.3" width="108.7" height="101.3" fill="#fcf6f9"/>
<circle cx="233.3" cy="729.8" r="2.71" fill="#ebcadb" stroke="#d8a2bf" stroke-width="1.3"/>
<circle cx="129.8" cy="818.5" r="2.66" fill="#ebcadb" stroke="#d8a2bf" stroke-width="1.3"/>
<circle cx="147.6" cy="727.8" r="2.53" fill="#f0d5e3" stroke="#deacc6" stroke-width="1.3"/>
<circle cx="199.3" cy="751.0" r="2.81" fill="#eed0e0" stroke="#dba6c2" stroke-width="1.3"/>
<circle cx="225.7" cy="739.2" r="2.75" fill="#eed0e0" stroke="#dba6c2" stroke-width="1.3"/>
<circle cx="233.4" cy="748.3" r="2.66" fill="#ebcadb" stroke="#d8a2bf" stroke-width="1.3"/>
<circle cx="193.7" cy="811.6" r="2.61" fill="#ebcadb" stroke="#d8a2bf" stroke-width="1.3"/>
<circle cx="203.1" cy="810.7" r="2.85" fill="#f0d5e3" stroke="#deacc6" stroke-width="1.3"/>
<circle cx="205.6" cy="720.3" r="2.55" fill="#f0d5e3" stroke="#deacc6" stroke-width="1.3"/>
<circle cx="224.8" cy="776.2" r="2.81" fill="#ebcadb" stroke="#d8a2bf" stroke-width="1.3"/>
<circle cx="161.6" cy="734.9" r="2.85" fill="#f0d5e3" stroke="#deacc6" stroke-width="1.3"/>
<circle cx="231.0" cy="795.2" r="2.44" fill="#ebcadb" stroke="#d8a2bf" stroke-width="1.3"/>
<circle cx="233.6" cy="773.8" r="2.51" fill="#f0d5e3" stroke="#deacc6" stroke-width="1.3"/>
<circle cx="204.5" cy="778.6" r="2.49" fill="#ebcadb" stroke="#d8a2bf" stroke-width="1.3"/>
<circle cx="155.8" cy="814.1" r="2.85" fill="#f0d5e3" stroke="#deacc6" stroke-width="1.3"/>
<circle cx="232.9" cy="782.5" r="2.47" fill="#f0d5e3" stroke="#deacc6" stroke-width="1.3"/>
<circle cx="142.9" cy="800.5" r="2.77" fill="#eed0e0" stroke="#dba6c2" stroke-width="1.3"/>
<circle cx="201.1" cy="734.4" r="2.86" fill="#ebcadb" stroke="#d8a2bf" stroke-width="1.3"/>
<circle cx="132.6" cy="770.2" r="2.72" fill="#f0d5e3" stroke="#deacc6" stroke-width="1.3"/>
<circle cx="130.8" cy="810.9" r="2.73" fill="#f0d5e3" stroke="#deacc6" stroke-width="1.3"/>
<circle cx="183.2" cy="768.7" r="2.56" fill="#ebcadb" stroke="#d8a2bf" stroke-width="1.3"/>
<circle cx="172.5" cy="783.6" r="2.66" fill="#eed0e0" stroke="#dba6c2" stroke-width="1.3"/>
<circle cx="168.6" cy="775.5" r="2.81" fill="#eed0e0" stroke="#dba6c2" stroke-width="1.3"/>
<circle cx="160.1" cy="776.8" r="2.89" fill="#f0d5e3" stroke="#deacc6" stroke-width="1.3"/>
<circle cx="187.3" cy="760.1" r="2.55" fill="#eed0e0" stroke="#dba6c2" stroke-width="1.3"/>
<circle cx="201.7" cy="769.9" r="2.51" fill="#eed0e0" stroke="#dba6c2" stroke-width="1.3"/>
<circle cx="137.0" cy="818.2" r="2.85" fill="#eed0e0" stroke="#dba6c2" stroke-width="1.3"/>
<circle cx="166.6" cy="759.9" r="2.57" fill="#f0d5e3" stroke="#deacc6" stroke-width="1.3"/>
<circle cx="171.8" cy="811.3" r="2.41" fill="#ebcadb" stroke="#d8a2bf" stroke-width="1.3"/>
<circle cx="171.6" cy="725.3" r="2.57" fill="#f0d5e3" stroke="#deacc6" stroke-width="1.3"/>
<circle cx="226.3" cy="733.0" r="2.68" fill="#ebcadb" stroke="#d8a2bf" stroke-width="1.3"/>
<circle cx="187.7" cy="751.4" r="2.55" fill="#eed0e0" stroke="#dba6c2" stroke-width="1.3"/>
<circle cx="163.5" cy="752.2" r="2.72" fill="#ebcadb" stroke="#d8a2bf" stroke-width="1.3"/>
<circle cx="148.4" cy="719.1" r="2.53" fill="#ebcadb" stroke="#d8a2bf" stroke-width="1.3"/>
<circle cx="186.5" cy="797.5" r="2.41" fill="#eed0e0" stroke="#dba6c2" stroke-width="1.3"/>
<circle cx="172.7" cy="800.8" r="2.54" fill="#ebcadb" stroke="#d8a2bf" stroke-width="1.3"/>
<circle cx="229.2" cy="762.9" r="2.82" fill="#eed0e0" stroke="#dba6c2" stroke-width="1.3"/>
<circle cx="220.9" cy="766.8" r="2.55" fill="#ebcadb" stroke="#d8a2bf" stroke-width="1.3"/>
<circle cx="185.2" cy="775.7" r="2.56" fill="#f0d5e3" stroke="#deacc6" stroke-width="1.3"/>
<circle cx="236.9" cy="792.1" r="2.55" fill="#ebcadb" stroke="#d8a2bf" stroke-width="1.3"/>
<circle cx="179.6" cy="790.4" r="2.57" fill="#f0d5e3" stroke="#deacc6" stroke-width="1.3"/>
<circle cx="214.0" cy="800.0" r="2.41" fill="#ebcadb" stroke="#d8a2bf" stroke-width="1.3"/>
<circle cx="146.2" cy="786.8" r="2.76" fill="#f0d5e3" stroke="#deacc6" stroke-width="1.3"/>
<circle cx="175.3" cy="743.1" r="2.41" fill="#f0d5e3" stroke="#deacc6" stroke-width="1.3"/>
<circle cx="157.8" cy="725.4" r="2.64" fill="#eed0e0" stroke="#dba6c2" stroke-width="1.3"/>
<circle cx="179.2" cy="736.8" r="2.75" fill="#ebcadb" stroke="#d8a2bf" stroke-width="1.3"/>
<circle cx="165.3" cy="791.2" r="2.77" fill="#eed0e0" stroke="#dba6c2" stroke-width="1.3"/>
<circle cx="229.6" cy="801.5" r="2.77" fill="#ebcadb" stroke="#d8a2bf" stroke-width="1.3"/>
<circle cx="131.4" cy="754.3" r="2.65" fill="#ebcadb" stroke="#d8a2bf" stroke-width="1.3"/>
<circle cx="221.2" cy="718.7" r="2.77" fill="#ebcadb" stroke="#d8a2bf" stroke-width="1.3"/>
<circle cx="149.7" cy="765.9" r="2.54" fill="#eed0e0" stroke="#dba6c2" stroke-width="1.3"/>
<circle cx="206.7" cy="763.3" r="2.84" fill="#ebcadb" stroke="#d8a2bf" stroke-width="1.3"/>
<circle cx="154.8" cy="739.1" r="2.66" fill="#f0d5e3" stroke="#deacc6" stroke-width="1.3"/>
<circle cx="194.0" cy="719.7" r="2.83" fill="#eed0e0" stroke="#dba6c2" stroke-width="1.3"/>
<circle cx="181.1" cy="718.4" r="2.67" fill="#f0d5e3" stroke="#deacc6" stroke-width="1.3"/>
<circle cx="212.0" cy="715.7" r="2.77" fill="#f0d5e3" stroke="#deacc6" stroke-width="1.3"/>
<circle cx="197.2" cy="817.1" r="2.63" fill="#f0d5e3" stroke="#deacc6" stroke-width="1.3"/>
<circle cx="186.4" cy="729.7" r="2.58" fill="#eed0e0" stroke="#dba6c2" stroke-width="1.3"/>
<circle cx="165.1" cy="804.5" r="2.76" fill="#eed0e0" stroke="#dba6c2" stroke-width="1.3"/>
<circle cx="204.3" cy="799.7" r="2.79" fill="#eed0e0" stroke="#dba6c2" stroke-width="1.3"/>
<circle cx="211.5" cy="755.2" r="2.66" fill="#f0d5e3" stroke="#deacc6" stroke-width="1.3"/>
<circle cx="169.2" cy="739.7" r="2.54" fill="#ebcadb" stroke="#d8a2bf" stroke-width="1.3"/>
<circle cx="184.5" cy="815.4" r="2.87" fill="#ebcadb" stroke="#d8a2bf" stroke-width="1.3"/>
<circle cx="144.1" cy="772.9" r="2.76" fill="#ebcadb" stroke="#d8a2bf" stroke-width="1.3"/>
<circle cx="218.6" cy="725.5" r="2.76" fill="#eed0e0" stroke="#dba6c2" stroke-width="1.3"/>
<circle cx="134.6" cy="733.7" r="2.72" fill="#eed0e0" stroke="#dba6c2" stroke-width="1.3"/>
<circle cx="196.1" cy="791.7" r="2.41" fill="#eed0e0" stroke="#dba6c2" stroke-width="1.3"/>
<circle cx="164.0" cy="815.6" r="2.59" fill="#f0d5e3" stroke="#deacc6" stroke-width="1.3"/>
<circle cx="160.2" cy="717.8" r="2.56" fill="#f0d5e3" stroke="#deacc6" stroke-width="1.3"/>
<circle cx="176.5" cy="749.6" r="2.69" fill="#eed0e0" stroke="#dba6c2" stroke-width="1.3"/>
<circle cx="217.2" cy="747.0" r="2.55" fill="#eed0e0" stroke="#dba6c2" stroke-width="1.3"/>
<circle cx="187.1" cy="806.0" r="2.42" fill="#ebcadb" stroke="#d8a2bf" stroke-width="1.3"/>
<circle cx="141.4" cy="740.0" r="2.83" fill="#f0d5e3" stroke="#deacc6" stroke-width="1.3"/>
<circle cx="180.4" cy="798.1" r="2.84" fill="#eed0e0" stroke="#dba6c2" stroke-width="1.3"/>
<circle cx="178.0" cy="780.4" r="2.55" fill="#f0d5e3" stroke="#deacc6" stroke-width="1.3"/>
<circle cx="132.6" cy="786.2" r="2.63" fill="#ebcadb" stroke="#d8a2bf" stroke-width="1.3"/>
<circle cx="216.6" cy="784.6" r="2.58" fill="#f0d5e3" stroke="#deacc6" stroke-width="1.3"/>
<circle cx="128.3" cy="723.8" r="2.53" fill="#eed0e0" stroke="#dba6c2" stroke-width="1.3"/>
<circle cx="144.3" cy="762.1" r="2.56" fill="#eed0e0" stroke="#dba6c2" stroke-width="1.3"/>
<circle cx="156.2" cy="805.0" r="2.68" fill="#eed0e0" stroke="#dba6c2" stroke-width="1.3"/>
<circle cx="153.8" cy="772.5" r="2.44" fill="#f0d5e3" stroke="#deacc6" stroke-width="1.3"/>
<circle cx="191.5" cy="738.8" r="2.80" fill="#ebcadb" stroke="#d8a2bf" stroke-width="1.3"/>
<circle cx="194.2" cy="747.1" r="2.82" fill="#eed0e0" stroke="#dba6c2" stroke-width="1.3"/>
<circle cx="213.2" cy="728.4" r="2.75" fill="#ebcadb" stroke="#d8a2bf" stroke-width="1.3"/>
<circle cx="202.5" cy="789.1" r="2.52" fill="#ebcadb" stroke="#d8a2bf" stroke-width="1.3"/>
<circle cx="144.7" cy="812.5" r="2.71" fill="#f0d5e3" stroke="#deacc6" stroke-width="1.3"/>
<circle cx="138.3" cy="753.6" r="2.60" fill="#f0d5e3" stroke="#deacc6" stroke-width="1.3"/>
<circle cx="155.3" cy="761.2" r="2.63" fill="#f0d5e3" stroke="#deacc6" stroke-width="1.3"/>
<circle cx="134.9" cy="800.7" r="2.46" fill="#f0d5e3" stroke="#deacc6" stroke-width="1.3"/>
<circle cx="152.8" cy="798.3" r="2.48" fill="#f0d5e3" stroke="#deacc6" stroke-width="1.3"/>
<circle cx="227.3" cy="786.6" r="2.60" fill="#f0d5e3" stroke="#deacc6" stroke-width="1.3"/>
<circle cx="232.7" cy="810.3" r="2.50" fill="#ebcadb" stroke="#d8a2bf" stroke-width="1.3"/>
<circle cx="135.4" cy="779.3" r="2.46" fill="#eed0e0" stroke="#dba6c2" stroke-width="1.3"/>
<circle cx="221.8" cy="755.5" r="2.49" fill="#ebcadb" stroke="#d8a2bf" stroke-width="1.3"/>
<circle cx="161.2" cy="783.9" r="2.66" fill="#f0d5e3" stroke="#deacc6" stroke-width="1.3"/>
<circle cx="136.2" cy="763.7" r="2.85" fill="#ebcadb" stroke="#d8a2bf" stroke-width="1.3"/>
<circle cx="152.5" cy="751.7" r="2.47" fill="#f0d5e3" stroke="#deacc6" stroke-width="1.3"/>
<circle cx="174.8" cy="794.4" r="2.55" fill="#f0d5e3" stroke="#deacc6" stroke-width="1.3"/>
<circle cx="153.2" cy="791.2" r="2.74" fill="#eed0e0" stroke="#dba6c2" stroke-width="1.3"/>
<circle cx="191.9" cy="726.8" r="2.64" fill="#ebcadb" stroke="#d8a2bf" stroke-width="1.3"/>
<circle cx="127.3" cy="789.5" r="2.44" fill="#f0d5e3" stroke="#deacc6" stroke-width="1.3"/>
<circle cx="193.2" cy="785.2" r="2.64" fill="#f0d5e3" stroke="#deacc6" stroke-width="1.3"/>
<circle cx="138.1" cy="726.9" r="2.55" fill="#f0d5e3" stroke="#deacc6" stroke-width="1.3"/>
<circle cx="221.2" cy="804.2" r="2.44" fill="#eed0e0" stroke="#dba6c2" stroke-width="1.3"/>
<circle cx="163.3" cy="742.8" r="2.80" fill="#eed0e0" stroke="#dba6c2" stroke-width="1.3"/>
<circle cx="135.2" cy="791.7" r="2.78" fill="#ebcadb" stroke="#d8a2bf" stroke-width="1.3"/>
<circle cx="211.4" cy="792.2" r="2.49" fill="#eed0e0" stroke="#dba6c2" stroke-width="1.3"/>
<circle cx="193.2" cy="776.7" r="2.64" fill="#f0d5e3" stroke="#deacc6" stroke-width="1.3"/>
<circle cx="202.9" cy="744.2" r="2.56" fill="#f0d5e3" stroke="#deacc6" stroke-width="1.3"/>
<circle cx="172.0" cy="763.5" r="2.79" fill="#eed0e0" stroke="#dba6c2" stroke-width="1.3"/>
<circle cx="208.4" cy="815.5" r="2.58" fill="#eed0e0" stroke="#dba6c2" stroke-width="1.3"/>
<circle cx="210.2" cy="768.5" r="2.52" fill="#f0d5e3" stroke="#deacc6" stroke-width="1.3"/>
<circle cx="209.0" cy="804.6" r="2.46" fill="#eed0e0" stroke="#dba6c2" stroke-width="1.3"/>
<circle cx="236.2" cy="799.7" r="2.60" fill="#eed0e0" stroke="#dba6c2" stroke-width="1.3"/>
<circle cx="187.5" cy="789.9" r="2.62" fill="#ebcadb" stroke="#d8a2bf" stroke-width="1.3"/>
<circle cx="214.1" cy="761.4" r="2.76" fill="#f0d5e3" stroke="#deacc6" stroke-width="1.3"/>
<circle cx="129.6" cy="746.8" r="2.73" fill="#eed0e0" stroke="#dba6c2" stroke-width="1.3"/>
<circle cx="235.3" cy="736.9" r="2.50" fill="#f0d5e3" stroke="#deacc6" stroke-width="1.3"/>
<circle cx="215.9" cy="807.4" r="2.75" fill="#eed0e0" stroke="#dba6c2" stroke-width="1.3"/>
<circle cx="180.6" cy="727.5" r="2.48" fill="#ebcadb" stroke="#d8a2bf" stroke-width="1.3"/>
<circle cx="204.5" cy="756.2" r="2.87" fill="#eed0e0" stroke="#dba6c2" stroke-width="1.3"/>
<circle cx="195.1" cy="758.0" r="2.81" fill="#eed0e0" stroke="#dba6c2" stroke-width="1.3"/>
<circle cx="196.3" cy="801.3" r="2.61" fill="#f0d5e3" stroke="#deacc6" stroke-width="1.3"/>
<circle cx="226.4" cy="770.1" r="2.40" fill="#eed0e0" stroke="#dba6c2" stroke-width="1.3"/>
<circle cx="236.3" cy="817.7" r="2.53" fill="#ebcadb" stroke="#d8a2bf" stroke-width="1.3"/>
<circle cx="138.2" cy="809.4" r="2.54" fill="#eed0e0" stroke="#dba6c2" stroke-width="1.3"/>
<circle cx="220.5" cy="792.4" r="2.57" fill="#eed0e0" stroke="#dba6c2" stroke-width="1.3"/>
<circle cx="234.4" cy="722.3" r="2.87" fill="#f0d5e3" stroke="#deacc6" stroke-width="1.3"/>
<circle cx="221.7" cy="811.4" r="2.83" fill="#ebcadb" stroke="#d8a2bf" stroke-width="1.3"/>
<circle cx="227.3" cy="720.6" r="2.51" fill="#f0d5e3" stroke="#deacc6" stroke-width="1.3"/>
<circle cx="148.2" cy="756.1" r="2.85" fill="#ebcadb" stroke="#d8a2bf" stroke-width="1.3"/>
<circle cx="207.1" cy="731.6" r="2.57" fill="#eed0e0" stroke="#dba6c2" stroke-width="1.3"/>
<circle cx="190.6" cy="770.5" r="2.58" fill="#f0d5e3" stroke="#deacc6" stroke-width="1.3"/>
<circle cx="149.1" cy="780.6" r="2.65" fill="#eed0e0" stroke="#dba6c2" stroke-width="1.3"/>
<circle cx="235.7" cy="766.9" r="2.74" fill="#eed0e0" stroke="#dba6c2" stroke-width="1.3"/>
<circle cx="129.0" cy="796.2" r="2.64" fill="#f0d5e3" stroke="#deacc6" stroke-width="1.3"/>
<circle cx="128.3" cy="763.4" r="2.44" fill="#eed0e0" stroke="#dba6c2" stroke-width="1.3"/>
<circle cx="143.1" cy="793.4" r="2.77" fill="#f0d5e3" stroke="#deacc6" stroke-width="1.3"/>
<circle cx="146.1" cy="749.3" r="2.50" fill="#ebcadb" stroke="#d8a2bf" stroke-width="1.3"/>
<circle cx="237.2" cy="715.7" r="2.63" fill="#f0d5e3" stroke="#deacc6" stroke-width="1.3"/>
<circle cx="166.6" cy="729.1" r="2.52" fill="#eed0e0" stroke="#dba6c2" stroke-width="1.3"/>
<circle cx="178.4" cy="756.6" r="2.65" fill="#eed0e0" stroke="#dba6c2" stroke-width="1.3"/>
<circle cx="139.0" cy="717.0" r="2.42" fill="#ebcadb" stroke="#d8a2bf" stroke-width="1.3"/>
<circle cx="128.7" cy="779.2" r="2.49" fill="#ebcadb" stroke="#d8a2bf" stroke-width="1.3"/>
<circle cx="168.8" cy="719.4" r="2.89" fill="#ebcadb" stroke="#d8a2bf" stroke-width="1.3"/>
<circle cx="201.0" cy="715.6" r="2.75" fill="#f0d5e3" stroke="#deacc6" stroke-width="1.3"/>
<circle cx="135.1" cy="740.9" r="2.64" fill="#ebcadb" stroke="#d8a2bf" stroke-width="1.3"/>
<circle cx="174.8" cy="817.6" r="2.64" fill="#eed0e0" stroke="#dba6c2" stroke-width="1.3"/>
<circle cx="148.6" cy="736.3" r="2.62" fill="#f0d5e3" stroke="#deacc6" stroke-width="1.3"/>
<circle cx="217.6" cy="772.0" r="2.73" fill="#f0d5e3" stroke="#deacc6" stroke-width="1.3"/>
<circle cx="227.3" cy="748.8" r="2.65" fill="#eed0e0" stroke="#dba6c2" stroke-width="1.3"/>
<circle cx="194.5" cy="732.5" r="2.54" fill="#ebcadb" stroke="#d8a2bf" stroke-width="1.3"/>
<circle cx="174.2" cy="716.1" r="2.56" fill="#eed0e0" stroke="#dba6c2" stroke-width="1.3"/>
<circle cx="183.1" cy="746.0" r="2.50" fill="#eed0e0" stroke="#dba6c2" stroke-width="1.3"/>
<circle cx="235.8" cy="758.5" r="2.71" fill="#eed0e0" stroke="#dba6c2" stroke-width="1.3"/>
<circle cx="153.6" cy="731.1" r="2.57" fill="#f0d5e3" stroke="#deacc6" stroke-width="1.3"/>
<circle cx="160.6" cy="768.2" r="2.65" fill="#eed0e0" stroke="#dba6c2" stroke-width="1.3"/>
<circle cx="215.4" cy="734.3" r="2.76" fill="#eed0e0" stroke="#dba6c2" stroke-width="1.3"/>
<circle cx="150.9" cy="808.7" r="2.48" fill="#eed0e0" stroke="#dba6c2" stroke-width="1.3"/>
<circle cx="229.2" cy="815.9" r="2.51" fill="#f0d5e3" stroke="#deacc6" stroke-width="1.3"/>
<circle cx="211.5" cy="775.9" r="2.75" fill="#ebcadb" stroke="#d8a2bf" stroke-width="1.3"/>
<circle cx="215.6" cy="814.2" r="2.90" fill="#f0d5e3" stroke="#deacc6" stroke-width="1.3"/>
<circle cx="225.1" cy="796.4" r="2.56" fill="#eed0e0" stroke="#dba6c2" stroke-width="1.3"/>
<circle cx="132.8" cy="719.4" r="2.56" fill="#eed0e0" stroke="#dba6c2" stroke-width="1.3"/>
<circle cx="181.3" cy="808.7" r="2.64" fill="#ebcadb" stroke="#d8a2bf" stroke-width="1.3"/>
<circle cx="200.7" cy="724.1" r="2.47" fill="#ebcadb" stroke="#d8a2bf" stroke-width="1.3"/>
<circle cx="197.5" cy="741.3" r="2.87" fill="#ebcadb" stroke="#d8a2bf" stroke-width="1.3"/>
<circle cx="212.8" cy="722.1" r="2.69" fill="#f0d5e3" stroke="#deacc6" stroke-width="1.3"/>
<circle cx="209.4" cy="745.2" r="2.70" fill="#f0d5e3" stroke="#deacc6" stroke-width="1.3"/>
<circle cx="170.2" cy="769.5" r="2.66" fill="#f0d5e3" stroke="#deacc6" stroke-width="1.3"/>
<circle cx="199.8" cy="782.7" r="2.77" fill="#eed0e0" stroke="#dba6c2" stroke-width="1.3"/>
<circle cx="160.5" cy="809.4" r="2.57" fill="#f0d5e3" stroke="#deacc6" stroke-width="1.3"/>
<circle cx="140.8" cy="732.9" r="2.71" fill="#ebcadb" stroke="#d8a2bf" stroke-width="1.3"/>
<circle cx="172.8" cy="734.8" r="2.46" fill="#f0d5e3" stroke="#deacc6" stroke-width="1.3"/>
<circle cx="209.8" cy="738.2" r="2.41" fill="#f0d5e3" stroke="#deacc6" stroke-width="1.3"/>
<circle cx="157.4" cy="747.9" r="2.68" fill="#ebcadb" stroke="#d8a2bf" stroke-width="1.3"/>
<circle cx="194.1" cy="764.0" r="2.41" fill="#f0d5e3" stroke="#deacc6" stroke-width="1.3"/>
<circle cx="139.6" cy="786.2" r="2.59" fill="#eed0e0" stroke="#dba6c2" stroke-width="1.3"/>
<circle cx="179.3" cy="774.5" r="2.68" fill="#f0d5e3" stroke="#deacc6" stroke-width="1.3"/>
<circle cx="153.6" cy="715.5" r="2.75" fill="#eed0e0" stroke="#dba6c2" stroke-width="1.3"/>
<circle cx="155.5" cy="781.9" r="2.69" fill="#f0d5e3" stroke="#deacc6" stroke-width="1.3"/>
<circle cx="206.1" cy="750.3" r="2.82" fill="#eed0e0" stroke="#dba6c2" stroke-width="1.3"/>
<circle cx="128.2" cy="740.1" r="2.79" fill="#eed0e0" stroke="#dba6c2" stroke-width="1.3"/>
<circle cx="140.8" cy="746.3" r="2.72" fill="#eed0e0" stroke="#dba6c2" stroke-width="1.3"/>
<circle cx="170.2" cy="748.5" r="2.59" fill="#ebcadb" stroke="#d8a2bf" stroke-width="1.3"/>
<circle cx="220.8" cy="818.3" r="2.87" fill="#ebcadb" stroke="#d8a2bf" stroke-width="1.3"/>
<circle cx="186.0" cy="721.8" r="2.47" fill="#eed0e0" stroke="#dba6c2" stroke-width="1.3"/>
<circle cx="222.9" cy="782.0" r="2.54" fill="#ebcadb" stroke="#d8a2bf" stroke-width="1.3"/>
<circle cx="159.2" cy="793.4" r="2.65" fill="#f0d5e3" stroke="#deacc6" stroke-width="1.3"/>
<circle cx="210.5" cy="784.7" r="2.72" fill="#f0d5e3" stroke="#deacc6" stroke-width="1.3"/>
<circle cx="187.0" cy="715.4" r="2.56" fill="#f0d5e3" stroke="#deacc6" stroke-width="1.3"/>
<circle cx="129.4" cy="803.9" r="2.58" fill="#eed0e0" stroke="#dba6c2" stroke-width="1.3"/>
<circle cx="229.1" cy="756.7" r="2.41" fill="#f0d5e3" stroke="#deacc6" stroke-width="1.3"/>
<circle cx="179.3" cy="762.8" r="2.59" fill="#eed0e0" stroke="#dba6c2" stroke-width="1.3"/>
<circle cx="185.0" cy="740.0" r="2.84" fill="#f0d5e3" stroke="#deacc6" stroke-width="1.3"/>
<circle cx="170.7" cy="754.6" r="2.48" fill="#ebcadb" stroke="#d8a2bf" stroke-width="1.3"/>
<circle cx="237.8" cy="742.6" r="2.51" fill="#eed0e0" stroke="#dba6c2" stroke-width="1.3"/>
<circle cx="128.2" cy="730.0" r="2.43" fill="#eed0e0" stroke="#dba6c2" stroke-width="1.3"/>
<circle cx="190.8" cy="817.4" r="2.49" fill="#eed0e0" stroke="#dba6c2" stroke-width="1.3"/>
<circle cx="160.8" cy="758.1" r="2.62" fill="#eed0e0" stroke="#dba6c2" stroke-width="1.3"/>
<circle cx="176.7" cy="768.5" r="2.87" fill="#eed0e0" stroke="#dba6c2" stroke-width="1.3"/>
<circle cx="230.9" cy="715.3" r="2.88" fill="#eed0e0" stroke="#dba6c2" stroke-width="1.3"/>
<circle cx="141.9" cy="779.1" r="2.87" fill="#eed0e0" stroke="#dba6c2" stroke-width="1.3"/>
<circle cx="219.3" cy="739.1" r="2.74" fill="#f0d5e3" stroke="#deacc6" stroke-width="1.3"/>
<circle cx="143.3" cy="722.8" r="2.69" fill="#eed0e0" stroke="#dba6c2" stroke-width="1.3"/>
<circle cx="145.6" cy="818.5" r="2.59" fill="#eed0e0" stroke="#dba6c2" stroke-width="1.3"/>
<circle cx="200.2" cy="762.9" r="2.71" fill="#eed0e0" stroke="#dba6c2" stroke-width="1.3"/>
<circle cx="217.8" cy="778.2" r="2.56" fill="#f0d5e3" stroke="#deacc6" stroke-width="1.3"/>
<circle cx="227.2" cy="807.4" r="2.56" fill="#ebcadb" stroke="#d8a2bf" stroke-width="1.3"/>
<circle cx="127.7" cy="715.3" r="2.77" fill="#eed0e0" stroke="#dba6c2" stroke-width="1.3"/>
<circle cx="237.2" cy="806.4" r="2.90" fill="#eed0e0" stroke="#dba6c2" stroke-width="1.3"/>
<circle cx="188.1" cy="781.7" r="2.72" fill="#f0d5e3" stroke="#deacc6" stroke-width="1.3"/>
<circle cx="237.8" cy="778.6" r="2.77" fill="#ebcadb" stroke="#d8a2bf" stroke-width="1.3"/>
<circle cx="225.5" cy="726.3" r="2.45" fill="#eed0e0" stroke="#dba6c2" stroke-width="1.3"/>
<circle cx="140.9" cy="767.7" r="2.47" fill="#f0d5e3" stroke="#deacc6" stroke-width="1.3"/>
<circle cx="175.6" cy="806.2" r="2.49" fill="#f0d5e3" stroke="#deacc6" stroke-width="1.3"/>
<circle cx="168.6" cy="796.3" r="2.87" fill="#f0d5e3" stroke="#deacc6" stroke-width="1.3"/>
<circle cx="164.1" cy="723.6" r="2.55" fill="#f0d5e3" stroke="#deacc6" stroke-width="1.3"/>
<circle cx="230.5" cy="742.8" r="2.54" fill="#eed0e0" stroke="#dba6c2" stroke-width="1.3"/>
<circle cx="192.4" cy="796.5" r="2.62" fill="#ebcadb" stroke="#d8a2bf" stroke-width="1.3"/>
<circle cx="237.5" cy="752.7" r="2.57" fill="#ebcadb" stroke="#d8a2bf" stroke-width="1.3"/>
<circle cx="145.1" cy="806.3" r="2.87" fill="#f0d5e3" stroke="#deacc6" stroke-width="1.3"/>
<circle cx="185" cy="766" r="2.0" fill="#b4a8d4" stroke="#a894c8" stroke-width="1.2"/>
<circle cx="226" cy="763" r="1.8" fill="#b4a8d4" stroke="#b09cd0" stroke-width="1.2"/>
</g></g>
<rect x="130.2" y="718.3" width="104.7" height="97.3" fill="none" stroke="#c09cb2" stroke-width="1.0"/>
<clipPath id="c33"><rect x="240.5" y="718.3" width="105.6" height="97.3"/></clipPath>
<filter id="f33" x="-5%" y="-5%" width="110%" height="110%"><feGaussianBlur stdDeviation="0.7"/></filter>
<g clip-path="url(#c33)"><g filter="url(#f33)">
<rect x="238.5" y="716.3" width="109.6" height="101.3" fill="#f8edf3"/>
<circle cx="301.1" cy="780.6" r="2.51" fill="#eacbdf" stroke="#d8a6c5" stroke-width="1.3"/>
<circle cx="328.7" cy="743.9" r="2.81" fill="#efd5e5" stroke="#dcb0cb" stroke-width="1.3"/>
<circle cx="310.2" cy="807.3" r="2.49" fill="#e8cfe4" stroke="#d4aacc" stroke-width="1.3"/>
<circle cx="338.9" cy="734.6" r="2.58" fill="#e8cfe4" stroke="#d4aacc" stroke-width="1.3"/>
<circle cx="310.2" cy="779.0" r="2.56" fill="#efd5e5" stroke="#dcb0cb" stroke-width="1.3"/>
<circle cx="293.7" cy="815.1" r="2.46" fill="#eacbdf" stroke="#d8a6c5" stroke-width="1.3"/>
<circle cx="296.5" cy="761.3" r="2.58" fill="#eacbdf" stroke="#d8a6c5" stroke-width="1.3"/>
<circle cx="342.8" cy="781.0" r="2.85" fill="#eacbdf" stroke="#d8a6c5" stroke-width="1.3"/>
<circle cx="271.1" cy="747.2" r="2.79" fill="#edcde0" stroke="#dba8c5" stroke-width="1.3"/>
<circle cx="292.9" cy="720.7" r="2.63" fill="#eacbdf" stroke="#d8a6c5" stroke-width="1.3"/>
<circle cx="305.3" cy="791.3" r="2.75" fill="#e8cfe4" stroke="#d4aacc" stroke-width="1.3"/>
<circle cx="285.1" cy="802.8" r="2.87" fill="#edcde0" stroke="#dba8c5" stroke-width="1.3"/>
<circle cx="341.1" cy="772.7" r="2.75" fill="#edcde0" stroke="#dba8c5" stroke-width="1.3"/>
<circle cx="313.5" cy="727.4" r="2.88" fill="#efd5e5" stroke="#dcb0cb" stroke-width="1.3"/>
<circle cx="243.8" cy="816.5" r="2.63" fill="#edcde0" stroke="#dba8c5" stroke-width="1.3"/>
<circle cx="269.2" cy="737.3" r="2.80" fill="#efd5e5" stroke="#dcb0cb" stroke-width="1.3"/>
<circle cx="337.6" cy="792.8" r="2.84" fill="#e8cfe4" stroke="#d4aacc" stroke-width="1.3"/>
<circle cx="251.2" cy="748.5" r="2.80" fill="#e8cfe4" stroke="#d4aacc" stroke-width="1.3"/>
<circle cx="264.6" cy="743.5" r="2.49" fill="#efd5e5" stroke="#dcb0cb" stroke-width="1.3"/>
<circle cx="238.2" cy="769.5" r="2.67" fill="#eacbdf" stroke="#d8a6c5" stroke-width="1.3"/>
<circle cx="271.5" cy="756.0" r="2.55" fill="#efd5e5" stroke="#dcb0cb" stroke-width="1.3"/>
<circle cx="258.2" cy="726.7" r="2.60" fill="#edcde0" stroke="#dba8c5" stroke-width="1.3"/>
<circle cx="241.2" cy="805.5" r="2.74" fill="#edcde0" stroke="#dba8c5" stroke-width="1.3"/>
<circle cx="320.9" cy="773.1" r="2.52" fill="#efd5e5" stroke="#dcb0cb" stroke-width="1.3"/>
<circle cx="251.3" cy="730.7" r="2.46" fill="#efd5e5" stroke="#dcb0cb" stroke-width="1.3"/>
<circle cx="243.9" cy="743.7" r="2.52" fill="#e8cfe4" stroke="#d4aacc" stroke-width="1.3"/>
<circle cx="260.1" cy="735.2" r="2.61" fill="#edcde0" stroke="#dba8c5" stroke-width="1.3"/>
<circle cx="310.5" cy="762.6" r="2.83" fill="#e8cfe4" stroke="#d4aacc" stroke-width="1.3"/>
<circle cx="290.3" cy="752.3" r="2.66" fill="#e8cfe4" stroke="#d4aacc" stroke-width="1.3"/>
<circle cx="297.7" cy="796.4" r="2.52" fill="#efd5e5" stroke="#dcb0cb" stroke-width="1.3"/>
<circle cx="271.9" cy="722.6" r="2.72" fill="#edcde0" stroke="#dba8c5" stroke-width="1.3"/>
<circle cx="324.6" cy="726.8" r="2.44" fill="#efd5e5" stroke="#dcb0cb" stroke-width="1.3"/>
<circle cx="334.9" cy="716.8" r="2.68" fill="#e8cfe4" stroke="#d4aacc" stroke-width="1.3"/>
<circle cx="272.7" cy="807.1" r="2.70" fill="#e8cfe4" stroke="#d4aacc" stroke-width="1.3"/>
<circle cx="292.7" cy="778.5" r="2.71" fill="#edcde0" stroke="#dba8c5" stroke-width="1.3"/>
<circle cx="241.2" cy="724.3" r="2.89" fill="#efd5e5" stroke="#dcb0cb" stroke-width="1.3"/>
<circle cx="289.1" cy="758.9" r="2.71" fill="#edcde0" stroke="#dba8c5" stroke-width="1.3"/>
<circle cx="294.1" cy="742.2" r="2.60" fill="#efd5e5" stroke="#dcb0cb" stroke-width="1.3"/>
<circle cx="335.3" cy="814.6" r="2.79" fill="#e8cfe4" stroke="#d4aacc" stroke-width="1.3"/>
<circle cx="258.2" cy="788.8" r="2.77" fill="#efd5e5" stroke="#dcb0cb" stroke-width="1.3"/>
<circle cx="306.9" cy="744.9" r="2.70" fill="#edcde0" stroke="#dba8c5" stroke-width="1.3"/>
<circle cx="345.3" cy="801.2" r="2.86" fill="#efd5e5" stroke="#dcb0cb" stroke-width="1.3"/>
<circle cx="340.8" cy="805.1" r="2.66" fill="#eacbdf" stroke="#d8a6c5" stroke-width="1.3"/>
<circle cx="294.6" cy="803.1" r="2.52" fill="#efd5e5" stroke="#dcb0cb" stroke-width="1.3"/>
<circle cx="267.7" cy="775.6" r="2.75" fill="#efd5e5" stroke="#dcb0cb" stroke-width="1.3"/>
<circle cx="301.4" cy="735.8" r="2.51" fill="#efd5e5" stroke="#dcb0cb" stroke-width="1.3"/>
<circle cx="258.5" cy="813.4" r="2.75" fill="#e8cfe4" stroke="#d4aacc" stroke-width="1.3"/>
<circle cx="245.5" cy="811.0" r="2.54" fill="#eacbdf" stroke="#d8a6c5" stroke-width="1.3"/>
<circle cx="348.6" cy="785.5" r="2.85" fill="#eacbdf" stroke="#d8a6c5" stroke-width="1.3"/>
<circle cx="238.3" cy="812.3" r="2.44" fill="#e8cfe4" stroke="#d4aacc" stroke-width="1.3"/>
<circle cx="283.6" cy="810.0" r="2.82" fill="#eacbdf" stroke="#d8a6c5" stroke-width="1.3"/>
<circle cx="241.9" cy="717.5" r="2.47" fill="#eacbdf" stroke="#d8a6c5" stroke-width="1.3"/>
<circle cx="324.6" cy="797.1" r="2.50" fill="#e8cfe4" stroke="#d4aacc" stroke-width="1.3"/>
<circle cx="278.4" cy="797.9" r="2.78" fill="#efd5e5" stroke="#dcb0cb" stroke-width="1.3"/>
<circle cx="320.2" cy="804.9" r="2.46" fill="#eacbdf" stroke="#d8a6c5" stroke-width="1.3"/>
<circle cx="345.5" cy="793.3" r="2.87" fill="#e8cfe4" stroke="#d4aacc" stroke-width="1.3"/>
<circle cx="275.3" cy="766.5" r="2.61" fill="#edcde0" stroke="#dba8c5" stroke-width="1.3"/>
<circle cx="287.7" cy="736.2" r="2.76" fill="#eacbdf" stroke="#d8a6c5" stroke-width="1.3"/>
<circle cx="246.7" cy="736.3" r="2.43" fill="#eacbdf" stroke="#d8a6c5" stroke-width="1.3"/>
<circle cx="283.8" cy="728.7" r="2.56" fill="#edcde0" stroke="#dba8c5" stroke-width="1.3"/>
<circle cx="326.8" cy="771.6" r="2.67" fill="#efd5e5" stroke="#dcb0cb" stroke-width="1.3"/>
<circle cx="263.7" cy="717.7" r="2.81" fill="#e8cfe4" stroke="#d4aacc" stroke-width="1.3"/>
<circle cx="277.8" cy="741.4" r="2.76" fill="#efd5e5" stroke="#dcb0cb" stroke-width="1.3"/>
<circle cx="271.7" cy="801.4" r="2.62" fill="#edcde0" stroke="#dba8c5" stroke-width="1.3"/>
<circle cx="238.5" cy="761.7" r="2.46" fill="#eacbdf" stroke="#d8a6c5" stroke-width="1.3"/>
<circle cx="318.4" cy="738.5" r="2.78" fill="#edcde0" stroke="#dba8c5" stroke-width="1.3"/>
<circle cx="242.2" cy="731.8" r="2.65" fill="#efd5e5" stroke="#dcb0cb" stroke-width="1.3"/>
<circle cx="346.7" cy="751.0" r="2.84" fill="#e8cfe4" stroke="#d4aacc" stroke-width="1.3"/>
<circle cx="250.6" cy="815.6" r="2.44" fill="#eacbdf" stroke="#d8a6c5" stroke-width="1.3"/>
<circle cx="309.5" cy="814.1" r="2.85" fill="#edcde0" stroke="#dba8c5" stroke-width="1.3"/>
<circle cx="325.6" cy="755.2" r="2.63" fill="#edcde0" stroke="#dba8c5" stroke-width="1.3"/>
<circle cx="335.3" cy="723.3" r="2.55" fill="#edcde0" stroke="#dba8c5" stroke-width="1.3"/>
<circle cx="307.1" cy="734.8" r="2.61" fill="#e8cfe4" stroke="#d4aacc" stroke-width="1.3"/>
<circle cx="259.8" cy="806.5" r="2.81" fill="#edcde0" stroke="#dba8c5" stroke-width="1.3"/>
<circle cx="269.2" cy="790.7" r="2.77" fill="#efd5e5" stroke="#dcb0cb" stroke-width="1.3"/>
<circle cx="263.7" cy="784.3" r="2.45" fill="#efd5e5" stroke="#dcb0cb" stroke-width="1.3"/>
<circle cx="248.5" cy="794.7" r="2.55" fill="#efd5e5" stroke="#dcb0cb" stroke-width="1.3"/>
<circle cx="255.2" cy="737.9" r="2.41" fill="#edcde0" stroke="#dba8c5" stroke-width="1.3"/>
<circle cx="257.1" cy="759.1" r="2.65" fill="#e8cfe4" stroke="#d4aacc" stroke-width="1.3"/>
<circle cx="252.6" cy="769.3" r="2.79" fill="#edcde0" stroke="#dba8c5" stroke-width="1.3"/>
<circle cx="301.0" cy="724.8" r="2.42" fill="#eacbdf" stroke="#d8a6c5" stroke-width="1.3"/>
<circle cx="280.2" cy="775.9" r="2.71" fill="#eacbdf" stroke="#d8a6c5" stroke-width="1.3"/>
<circle cx="325.7" cy="818.0" r="2.67" fill="#efd5e5" stroke="#dcb0cb" stroke-width="1.3"/>
<circle cx="292.6" cy="767.6" r="2.55" fill="#eacbdf" stroke="#d8a6c5" stroke-width="1.3"/>
<circle cx="327.3" cy="735.4" r="2.61" fill="#eacbdf" stroke="#d8a6c5" stroke-width="1.3"/>
<circle cx="276.6" cy="727.6" r="2.88" fill="#edcde0" stroke="#dba8c5" stroke-width="1.3"/>
<circle cx="329.4" cy="782.5" r="2.83" fill="#eacbdf" stroke="#d8a6c5" stroke-width="1.3"/>
<circle cx="306.8" cy="800.7" r="2.68" fill="#efd5e5" stroke="#dcb0cb" stroke-width="1.3"/>
<circle cx="274.2" cy="782.4" r="2.54" fill="#e8cfe4" stroke="#d4aacc" stroke-width="1.3"/>
<circle cx="317.5" cy="721.7" r="2.47" fill="#edcde0" stroke="#dba8c5" stroke-width="1.3"/>
<circle cx="284.1" cy="748.0" r="2.73" fill="#eacbdf" stroke="#d8a6c5" stroke-width="1.3"/>
<circle cx="338.3" cy="760.0" r="2.72" fill="#edcde0" stroke="#dba8c5" stroke-width="1.3"/>
<circle cx="312.3" cy="742.1" r="2.71" fill="#edcde0" stroke="#dba8c5" stroke-width="1.3"/>
<circle cx="347.8" cy="723.4" r="2.55" fill="#e8cfe4" stroke="#d4aacc" stroke-width="1.3"/>
<circle cx="257.3" cy="799.0" r="2.80" fill="#e8cfe4" stroke="#d4aacc" stroke-width="1.3"/>
<circle cx="322.3" cy="716.5" r="2.71" fill="#eacbdf" stroke="#d8a6c5" stroke-width="1.3"/>
<circle cx="275.1" cy="790.0" r="2.57" fill="#edcde0" stroke="#dba8c5" stroke-width="1.3"/>
<circle cx="321.7" cy="751.1" r="2.47" fill="#e8cfe4" stroke="#d4aacc" stroke-width="1.3"/>
<circle cx="320.7" cy="812.1" r="2.69" fill="#edcde0" stroke="#dba8c5" stroke-width="1.3"/>
<circle cx="330.0" cy="806.1" r="2.84" fill="#e8cfe4" stroke="#d4aacc" stroke-width="1.3"/>
<circle cx="314.8" cy="766.8" r="2.75" fill="#e8cfe4" stroke="#d4aacc" stroke-width="1.3"/>
<circle cx="337.1" cy="752.3" r="2.60" fill="#efd5e5" stroke="#dcb0cb" stroke-width="1.3"/>
<circle cx="265.1" cy="797.0" r="2.40" fill="#efd5e5" stroke="#dcb0cb" stroke-width="1.3"/>
<circle cx="292.6" cy="786.3" r="2.52" fill="#efd5e5" stroke="#dcb0cb" stroke-width="1.3"/>
<circle cx="277.6" cy="754.3" r="2.55" fill="#edcde0" stroke="#dba8c5" stroke-width="1.3"/>
<circle cx="295.6" cy="715.5" r="2.66" fill="#efd5e5" stroke="#dcb0cb" stroke-width="1.3"/>
<circle cx="259.9" cy="751.6" r="2.76" fill="#edcde0" stroke="#dba8c5" stroke-width="1.3"/>
<circle cx="264.7" cy="817.6" r="2.62" fill="#e8cfe4" stroke="#d4aacc" stroke-width="1.3"/>
<circle cx="324.9" cy="789.2" r="2.41" fill="#efd5e5" stroke="#dcb0cb" stroke-width="1.3"/>
<circle cx="266.1" cy="753.0" r="2.71" fill="#edcde0" stroke="#dba8c5" stroke-width="1.3"/>
<circle cx="256.4" cy="717.7" r="2.68" fill="#eacbdf" stroke="#d8a6c5" stroke-width="1.3"/>
<circle cx="256.9" cy="765.2" r="2.42" fill="#edcde0" stroke="#dba8c5" stroke-width="1.3"/>
<circle cx="343.0" cy="816.4" r="2.83" fill="#eacbdf" stroke="#d8a6c5" stroke-width="1.3"/>
<circle cx="315.9" cy="799.8" r="2.49" fill="#efd5e5" stroke="#dcb0cb" stroke-width="1.3"/>
<circle cx="258.2" cy="782.7" r="2.57" fill="#e8cfe4" stroke="#d4aacc" stroke-width="1.3"/>
<circle cx="311.1" cy="793.3" r="2.48" fill="#efd5e5" stroke="#dcb0cb" stroke-width="1.3"/>
<circle cx="335.1" cy="775.6" r="2.59" fill="#eacbdf" stroke="#d8a6c5" stroke-width="1.3"/>
<circle cx="333.1" cy="800.1" r="2.69" fill="#eacbdf" stroke="#d8a6c5" stroke-width="1.3"/>
<circle cx="323.9" cy="760.8" r="2.67" fill="#e8cfe4" stroke="#d4aacc" stroke-width="1.3"/>
<circle cx="273.1" cy="814.5" r="2.69" fill="#edcde0" stroke="#dba8c5" stroke-width="1.3"/>
<circle cx="336.6" cy="743.4" r="2.55" fill="#eacbdf" stroke="#d8a6c5" stroke-width="1.3"/>
<circle cx="300.1" cy="816.4" r="2.51" fill="#efd5e5" stroke="#dcb0cb" stroke-width="1.3"/>
<circle cx="348.1" cy="731.9" r="2.68" fill="#edcde0" stroke="#dba8c5" stroke-width="1.3"/>
<circle cx="348.0" cy="806.5" r="2.42" fill="#edcde0" stroke="#dba8c5" stroke-width="1.3"/>
<circle cx="291.0" cy="798.8" r="2.49" fill="#eacbdf" stroke="#d8a6c5" stroke-width="1.3"/>
<circle cx="341.7" cy="715.5" r="2.82" fill="#e8cfe4" stroke="#d4aacc" stroke-width="1.3"/>
<circle cx="334.0" cy="769.8" r="2.68" fill="#edcde0" stroke="#dba8c5" stroke-width="1.3"/>
<circle cx="278.9" cy="814.6" r="2.44" fill="#edcde0" stroke="#dba8c5" stroke-width="1.3"/>
<circle cx="315.9" cy="754.9" r="2.71" fill="#efd5e5" stroke="#dcb0cb" stroke-width="1.3"/>
<circle cx="300.2" cy="752.7" r="2.45" fill="#efd5e5" stroke="#dcb0cb" stroke-width="1.3"/>
<circle cx="310.3" cy="717.9" r="2.78" fill="#e8cfe4" stroke="#d4aacc" stroke-width="1.3"/>
<circle cx="250.3" cy="722.4" r="2.61" fill="#efd5e5" stroke="#dcb0cb" stroke-width="1.3"/>
<circle cx="241.1" cy="793.8" r="2.71" fill="#efd5e5" stroke="#dcb0cb" stroke-width="1.3"/>
<circle cx="283.5" cy="787.5" r="2.54" fill="#e8cfe4" stroke="#d4aacc" stroke-width="1.3"/>
<circle cx="289.4" cy="809.3" r="2.84" fill="#e8cfe4" stroke="#d4aacc" stroke-width="1.3"/>
<circle cx="302.5" cy="769.6" r="2.77" fill="#efd5e5" stroke="#dcb0cb" stroke-width="1.3"/>
<circle cx="345.5" cy="744.8" r="2.68" fill="#edcde0" stroke="#dba8c5" stroke-width="1.3"/>
<circle cx="242.1" cy="785.1" r="2.83" fill="#e8cfe4" stroke="#d4aacc" stroke-width="1.3"/>
<circle cx="347.7" cy="738.5" r="2.56" fill="#efd5e5" stroke="#dcb0cb" stroke-width="1.3"/>
<circle cx="339.1" cy="798.6" r="2.76" fill="#e8cfe4" stroke="#d4aacc" stroke-width="1.3"/>
<circle cx="248.8" cy="800.7" r="2.70" fill="#eacbdf" stroke="#d8a6c5" stroke-width="1.3"/>
<circle cx="307.3" cy="752.6" r="2.72" fill="#e8cfe4" stroke="#d4aacc" stroke-width="1.3"/>
<circle cx="303.3" cy="762.3" r="2.47" fill="#efd5e5" stroke="#dcb0cb" stroke-width="1.3"/>
<circle cx="249.6" cy="781.7" r="2.90" fill="#e8cfe4" stroke="#d4aacc" stroke-width="1.3"/>
<circle cx="266.1" cy="810.8" r="2.52" fill="#e8cfe4" stroke="#d4aacc" stroke-width="1.3"/>
<circle cx="316.4" cy="817.6" r="2.74" fill="#e8cfe4" stroke="#d4aacc" stroke-width="1.3"/>
<circle cx="244.9" cy="757.0" r="2.62" fill="#e8cfe4" stroke="#d4aacc" stroke-width="1.3"/>
<circle cx="258.9" cy="743.7" r="2.87" fill="#edcde0" stroke="#dba8c5" stroke-width="1.3"/>
<circle cx="329.7" cy="762.2" r="2.55" fill="#eacbdf" stroke="#d8a6c5" stroke-width="1.3"/>
<circle cx="304.1" cy="717.3" r="2.69" fill="#eacbdf" stroke="#d8a6c5" stroke-width="1.3"/>
<circle cx="267.1" cy="731.1" r="2.81" fill="#eacbdf" stroke="#d8a6c5" stroke-width="1.3"/>
<circle cx="318.4" cy="731.2" r="2.74" fill="#eacbdf" stroke="#d8a6c5" stroke-width="1.3"/>
<circle cx="262.7" cy="759.8" r="2.47" fill="#eacbdf" stroke="#d8a6c5" stroke-width="1.3"/>
<circle cx="262.0" cy="767.8" r="2.77" fill="#eacbdf" stroke="#d8a6c5" stroke-width="1.3"/>
<circle cx="258.9" cy="776.0" r="2.77" fill="#efd5e5" stroke="#dcb0cb" stroke-width="1.3"/>
<circle cx="315.1" cy="783.2" r="2.64" fill="#eacbdf" stroke="#d8a6c5" stroke-width="1.3"/>
<circle cx="248.2" cy="764.6" r="2.49" fill="#efd5e5" stroke="#dcb0cb" stroke-width="1.3"/>
<circle cx="252.0" cy="805.6" r="2.70" fill="#e8cfe4" stroke="#d4aacc" stroke-width="1.3"/>
<circle cx="245.7" cy="776.0" r="2.59" fill="#e8cfe4" stroke="#d4aacc" stroke-width="1.3"/>
<circle cx="252.0" cy="755.5" r="2.49" fill="#efd5e5" stroke="#dcb0cb" stroke-width="1.3"/>
<circle cx="323.1" cy="780.5" r="2.51" fill="#efd5e5" stroke="#dcb0cb" stroke-width="1.3"/>
<circle cx="274.5" cy="716.9" r="2.76" fill="#eacbdf" stroke="#d8a6c5" stroke-width="1.3"/>
<circle cx="334.8" cy="729.3" r="2.41" fill="#eacbdf" stroke="#d8a6c5" stroke-width="1.3"/>
<circle cx="283.6" cy="757.7" r="2.53" fill="#efd5e5" stroke="#dcb0cb" stroke-width="1.3"/>
<circle cx="287.9" cy="791.5" r="2.45" fill="#eacbdf" stroke="#d8a6c5" stroke-width="1.3"/>
<circle cx="281.8" cy="736.6" r="2.47" fill="#e8cfe4" stroke="#d4aacc" stroke-width="1.3"/>
<circle cx="316.7" cy="791.1" r="2.52" fill="#edcde0" stroke="#dba8c5" stroke-width="1.3"/>
<circle cx="239.9" cy="754.4" r="2.56" fill="#edcde0" stroke="#dba8c5" stroke-width="1.3"/>
<circle cx="279.8" cy="722.0" r="2.63" fill="#efd5e5" stroke="#dcb0cb" stroke-width="1.3"/>
<circle cx="291.9" cy="732.1" r="2.46" fill="#edcde0" stroke="#dba8c5" stroke-width="1.3"/>
<circle cx="243.5" cy="749.7" r="2.70" fill="#edcde0" stroke="#dba8c5" stroke-width="1.3"/>
<circle cx="322.5" cy="743.2" r="2.53" fill="#edcde0" stroke="#dba8c5" stroke-width="1.3"/>
<circle cx="304.6" cy="810.0" r="2.76" fill="#edcde0" stroke="#dba8c5" stroke-width="1.3"/>
<circle cx="348.4" cy="763.5" r="2.72" fill="#e8cfe4" stroke="#d4aacc" stroke-width="1.3"/>
<circle cx="278.3" cy="760.4" r="2.53" fill="#e8cfe4" stroke="#d4aacc" stroke-width="1.3"/>
<circle cx="301.9" cy="742.2" r="2.42" fill="#eacbdf" stroke="#d8a6c5" stroke-width="1.3"/>
<circle cx="287.2" cy="769.8" r="2.43" fill="#edcde0" stroke="#dba8c5" stroke-width="1.3"/>
<circle cx="277.5" cy="803.8" r="2.72" fill="#edcde0" stroke="#dba8c5" stroke-width="1.3"/>
<circle cx="298.9" cy="787.5" r="2.76" fill="#e8cfe4" stroke="#d4aacc" stroke-width="1.3"/>
<circle cx="331.9" cy="749.8" r="2.72" fill="#edcde0" stroke="#dba8c5" stroke-width="1.3"/>
<circle cx="241.4" cy="799.7" r="2.42" fill="#e8cfe4" stroke="#d4aacc" stroke-width="1.3"/>
<circle cx="277.1" cy="748.3" r="2.69" fill="#e8cfe4" stroke="#d4aacc" stroke-width="1.3"/>
<circle cx="342.3" cy="786.9" r="2.60" fill="#edcde0" stroke="#dba8c5" stroke-width="1.3"/>
<circle cx="332.9" cy="756.3" r="2.48" fill="#eacbdf" stroke="#d8a6c5" stroke-width="1.3"/>
<circle cx="349.1" cy="769.8" r="2.81" fill="#edcde0" stroke="#dba8c5" stroke-width="1.3"/>
<circle cx="268.6" cy="767.2" r="2.51" fill="#efd5e5" stroke="#dcb0cb" stroke-width="1.3"/>
<circle cx="275.2" cy="736.3" r="2.71" fill="#efd5e5" stroke="#dcb0cb" stroke-width="1.3"/>
<circle cx="314.3" cy="774.3" r="2.81" fill="#eacbdf" stroke="#d8a6c5" stroke-width="1.3"/>
<circle cx="342.3" cy="810.6" r="2.78" fill="#e8cfe4" stroke="#d4aacc" stroke-width="1.3"/>
<circle cx="251.7" cy="775.6" r="2.55" fill="#edcde0" stroke="#dba8c5" stroke-width="1.3"/>
<circle cx="314.9" cy="748.3" r="2.72" fill="#edcde0" stroke="#dba8c5" stroke-width="1.3"/>
<circle cx="297.2" cy="773.5" r="2.67" fill="#eacbdf" stroke="#d8a6c5" stroke-width="1.3"/>
<circle cx="338.5" cy="766.5" r="2.57" fill="#edcde0" stroke="#dba8c5" stroke-width="1.3"/>
<circle cx="342.7" cy="755.6" r="2.58" fill="#efd5e5" stroke="#dcb0cb" stroke-width="1.3"/>
<circle cx="334.9" cy="785.8" r="2.72" fill="#efd5e5" stroke="#dcb0cb" stroke-width="1.3"/>
<circle cx="238.7" cy="738.0" r="2.52" fill="#e8cfe4" stroke="#d4aacc" stroke-width="1.3"/>
<circle cx="282.7" cy="793.9" r="2.67" fill="#edcde0" stroke="#dba8c5" stroke-width="1.3"/>
<circle cx="286.9" cy="721.3" r="2.75" fill="#eacbdf" stroke="#d8a6c5" stroke-width="1.3"/>
<circle cx="329.2" cy="716.0" r="2.71" fill="#edcde0" stroke="#dba8c5" stroke-width="1.3"/>
<circle cx="307.0" cy="729.1" r="2.71" fill="#eacbdf" stroke="#d8a6c5" stroke-width="1.3"/>
<circle cx="294.7" cy="748.1" r="2.42" fill="#e8cfe4" stroke="#d4aacc" stroke-width="1.3"/>
<circle cx="326.6" cy="811.7" r="2.69" fill="#edcde0" stroke="#dba8c5" stroke-width="1.3"/>
<circle cx="332.5" cy="737.9" r="2.47" fill="#edcde0" stroke="#dba8c5" stroke-width="1.3"/>
<circle cx="274.3" cy="776.6" r="2.66" fill="#eacbdf" stroke="#d8a6c5" stroke-width="1.3"/>
<circle cx="309.4" cy="785.9" r="2.82" fill="#efd5e5" stroke="#dcb0cb" stroke-width="1.3"/>
<circle cx="247.2" cy="715.3" r="2.57" fill="#efd5e5" stroke="#dcb0cb" stroke-width="1.3"/>
<circle cx="281.4" cy="765.3" r="2.57" fill="#eacbdf" stroke="#d8a6c5" stroke-width="1.3"/>
<circle cx="286.3" cy="815.0" r="2.50" fill="#edcde0" stroke="#dba8c5" stroke-width="1.3"/>
<circle cx="285.4" cy="780.5" r="2.49" fill="#e8cfe4" stroke="#d4aacc" stroke-width="1.3"/>
<circle cx="266.4" cy="805.1" r="2.87" fill="#eacbdf" stroke="#d8a6c5" stroke-width="1.3"/>
<circle cx="300.7" cy="802.2" r="2.80" fill="#edcde0" stroke="#dba8c5" stroke-width="1.3"/>
<circle cx="330.2" cy="794.0" r="2.47" fill="#eacbdf" stroke="#d8a6c5" stroke-width="1.3"/>
<circle cx="262.9" cy="723.5" r="2.42" fill="#edcde0" stroke="#dba8c5" stroke-width="1.3"/>
<circle cx="340.5" cy="727.2" r="2.61" fill="#efd5e5" stroke="#dcb0cb" stroke-width="1.3"/>
<circle cx="326.5" cy="721.3" r="2.53" fill="#edcde0" stroke="#dba8c5" stroke-width="1.3"/>
<circle cx="316.6" cy="716.2" r="2.77" fill="#eacbdf" stroke="#d8a6c5" stroke-width="1.3"/>
<circle cx="280.4" cy="715.7" r="2.67" fill="#efd5e5" stroke="#dcb0cb" stroke-width="1.3"/>
<circle cx="288.0" cy="743.9" r="2.42" fill="#e8cfe4" stroke="#d4aacc" stroke-width="1.3"/>
<circle cx="313.8" cy="734.4" r="2.57" fill="#eacbdf" stroke="#d8a6c5" stroke-width="1.3"/>
<circle cx="238.9" cy="775.8" r="2.45" fill="#edcde0" stroke="#dba8c5" stroke-width="1.3"/>
<circle cx="248.1" cy="787.3" r="2.46" fill="#eacbdf" stroke="#d8a6c5" stroke-width="1.3"/>
<circle cx="237.9" cy="746.6" r="2.41" fill="#edcde0" stroke="#dba8c5" stroke-width="1.3"/>
<circle cx="306.7" cy="774.1" r="2.53" fill="#e8cfe4" stroke="#d4aacc" stroke-width="1.3"/>
<circle cx="298.7" cy="810.1" r="2.65" fill="#edcde0" stroke="#dba8c5" stroke-width="1.3"/>
<circle cx="295.0" cy="726.1" r="2.83" fill="#edcde0" stroke="#dba8c5" stroke-width="1.3"/>
<circle cx="299.3" cy="730.6" r="2.42" fill="#efd5e5" stroke="#dcb0cb" stroke-width="1.3"/>
<circle cx="347.4" cy="717.5" r="2.86" fill="#edcde0" stroke="#dba8c5" stroke-width="1.3"/>
<circle cx="306.9" cy="723.2" r="2.87" fill="#efd5e5" stroke="#dcb0cb" stroke-width="1.3"/>
<circle cx="347.7" cy="777.4" r="2.43" fill="#efd5e5" stroke="#dcb0cb" stroke-width="1.3"/>
<circle cx="269.9" cy="761.7" r="2.41" fill="#eacbdf" stroke="#d8a6c5" stroke-width="1.3"/>
<circle cx="322.3" cy="766.6" r="2.66" fill="#e8cfe4" stroke="#d4aacc" stroke-width="1.3"/>
<circle cx="244.8" cy="770.2" r="2.69" fill="#efd5e5" stroke="#dcb0cb" stroke-width="1.3"/>
<circle cx="295.4" cy="736.6" r="2.65" fill="#efd5e5" stroke="#dcb0cb" stroke-width="1.3"/>
<circle cx="348.5" cy="812.7" r="2.70" fill="#edcde0" stroke="#dba8c5" stroke-width="1.3"/>
<circle cx="315.9" cy="808.7" r="2.41" fill="#e8cfe4" stroke="#d4aacc" stroke-width="1.3"/>
<circle cx="238.0" cy="818.2" r="2.63" fill="#eacbdf" stroke="#d8a6c5" stroke-width="1.3"/>
<circle cx="288.2" cy="715.4" r="2.57" fill="#edcde0" stroke="#dba8c5" stroke-width="1.3"/>
<circle cx="341.6" cy="740.0" r="2.79" fill="#eacbdf" stroke="#d8a6c5" stroke-width="1.3"/>
<circle cx="342.2" cy="721.8" r="2.87" fill="#eacbdf" stroke="#d8a6c5" stroke-width="1.3"/>
<circle cx="253.1" cy="743.2" r="2.85" fill="#edcde0" stroke="#dba8c5" stroke-width="1.3"/>
<circle cx="246.9" cy="727.1" r="2.43" fill="#efd5e5" stroke="#dcb0cb" stroke-width="1.3"/>
<circle cx="317.7" cy="760.6" r="2.43" fill="#e8cfe4" stroke="#d4aacc" stroke-width="1.3"/>
<circle cx="348.3" cy="818.4" r="2.89" fill="#efd5e5" stroke="#dcb0cb" stroke-width="1.3"/>
<circle cx="289.4" cy="726.9" r="2.76" fill="#efd5e5" stroke="#dcb0cb" stroke-width="1.3"/>
<circle cx="253.0" cy="791.3" r="2.55" fill="#e8cfe4" stroke="#d4aacc" stroke-width="1.3"/>
<circle cx="305.6" cy="818.2" r="2.66" fill="#edcde0" stroke="#dba8c5" stroke-width="1.3"/>
<circle cx="280.0" cy="781.9" r="2.41" fill="#efd5e5" stroke="#dcb0cb" stroke-width="1.3"/>
<circle cx="348.2" cy="757.9" r="2.40" fill="#e8cfe4" stroke="#d4aacc" stroke-width="1.3"/>
<circle cx="334.9" cy="808.9" r="2.71" fill="#edcde0" stroke="#dba8c5" stroke-width="1.3"/>
<circle cx="329.6" cy="776.7" r="2.75" fill="#edcde0" stroke="#dba8c5" stroke-width="1.3"/>
<circle cx="309.1" cy="768.6" r="2.42" fill="#efd5e5" stroke="#dcb0cb" stroke-width="1.3"/>
<circle cx="272.8" cy="795.4" r="2.64" fill="#edcde0" stroke="#dba8c5" stroke-width="1.3"/>
<circle cx="237.6" cy="781.7" r="2.48" fill="#eacbdf" stroke="#d8a6c5" stroke-width="1.3"/>
<circle cx="293.5" cy="792.1" r="2.42" fill="#e8cfe4" stroke="#d4aacc" stroke-width="1.3"/>
<circle cx="295.0" cy="755.6" r="2.79" fill="#edcde0" stroke="#dba8c5" stroke-width="1.3"/>
<circle cx="340.5" cy="747.8" r="2.41" fill="#edcde0" stroke="#dba8c5" stroke-width="1.3"/>
<circle cx="268.8" cy="715.3" r="2.87" fill="#efd5e5" stroke="#dcb0cb" stroke-width="1.3"/>
<circle cx="268.6" cy="781.4" r="2.74" fill="#eacbdf" stroke="#d8a6c5" stroke-width="1.3"/>
<circle cx="288" cy="768" r="2.0" fill="#b4a8d4" stroke="#a898cc" stroke-width="1.2"/>
<circle cx="338" cy="771" r="1.8" fill="#b4a8d4" stroke="#b0a0d0" stroke-width="1.2"/>
</g></g>
<rect x="240.5" y="718.3" width="105.6" height="97.3" fill="none" stroke="#c09cb2" stroke-width="1.0"/>
<rect x="0.85" y="0.95" width="518.3" height="823.1" fill="none" stroke="#000" stroke-width="1.9"/>
</svg>
</body></html>
